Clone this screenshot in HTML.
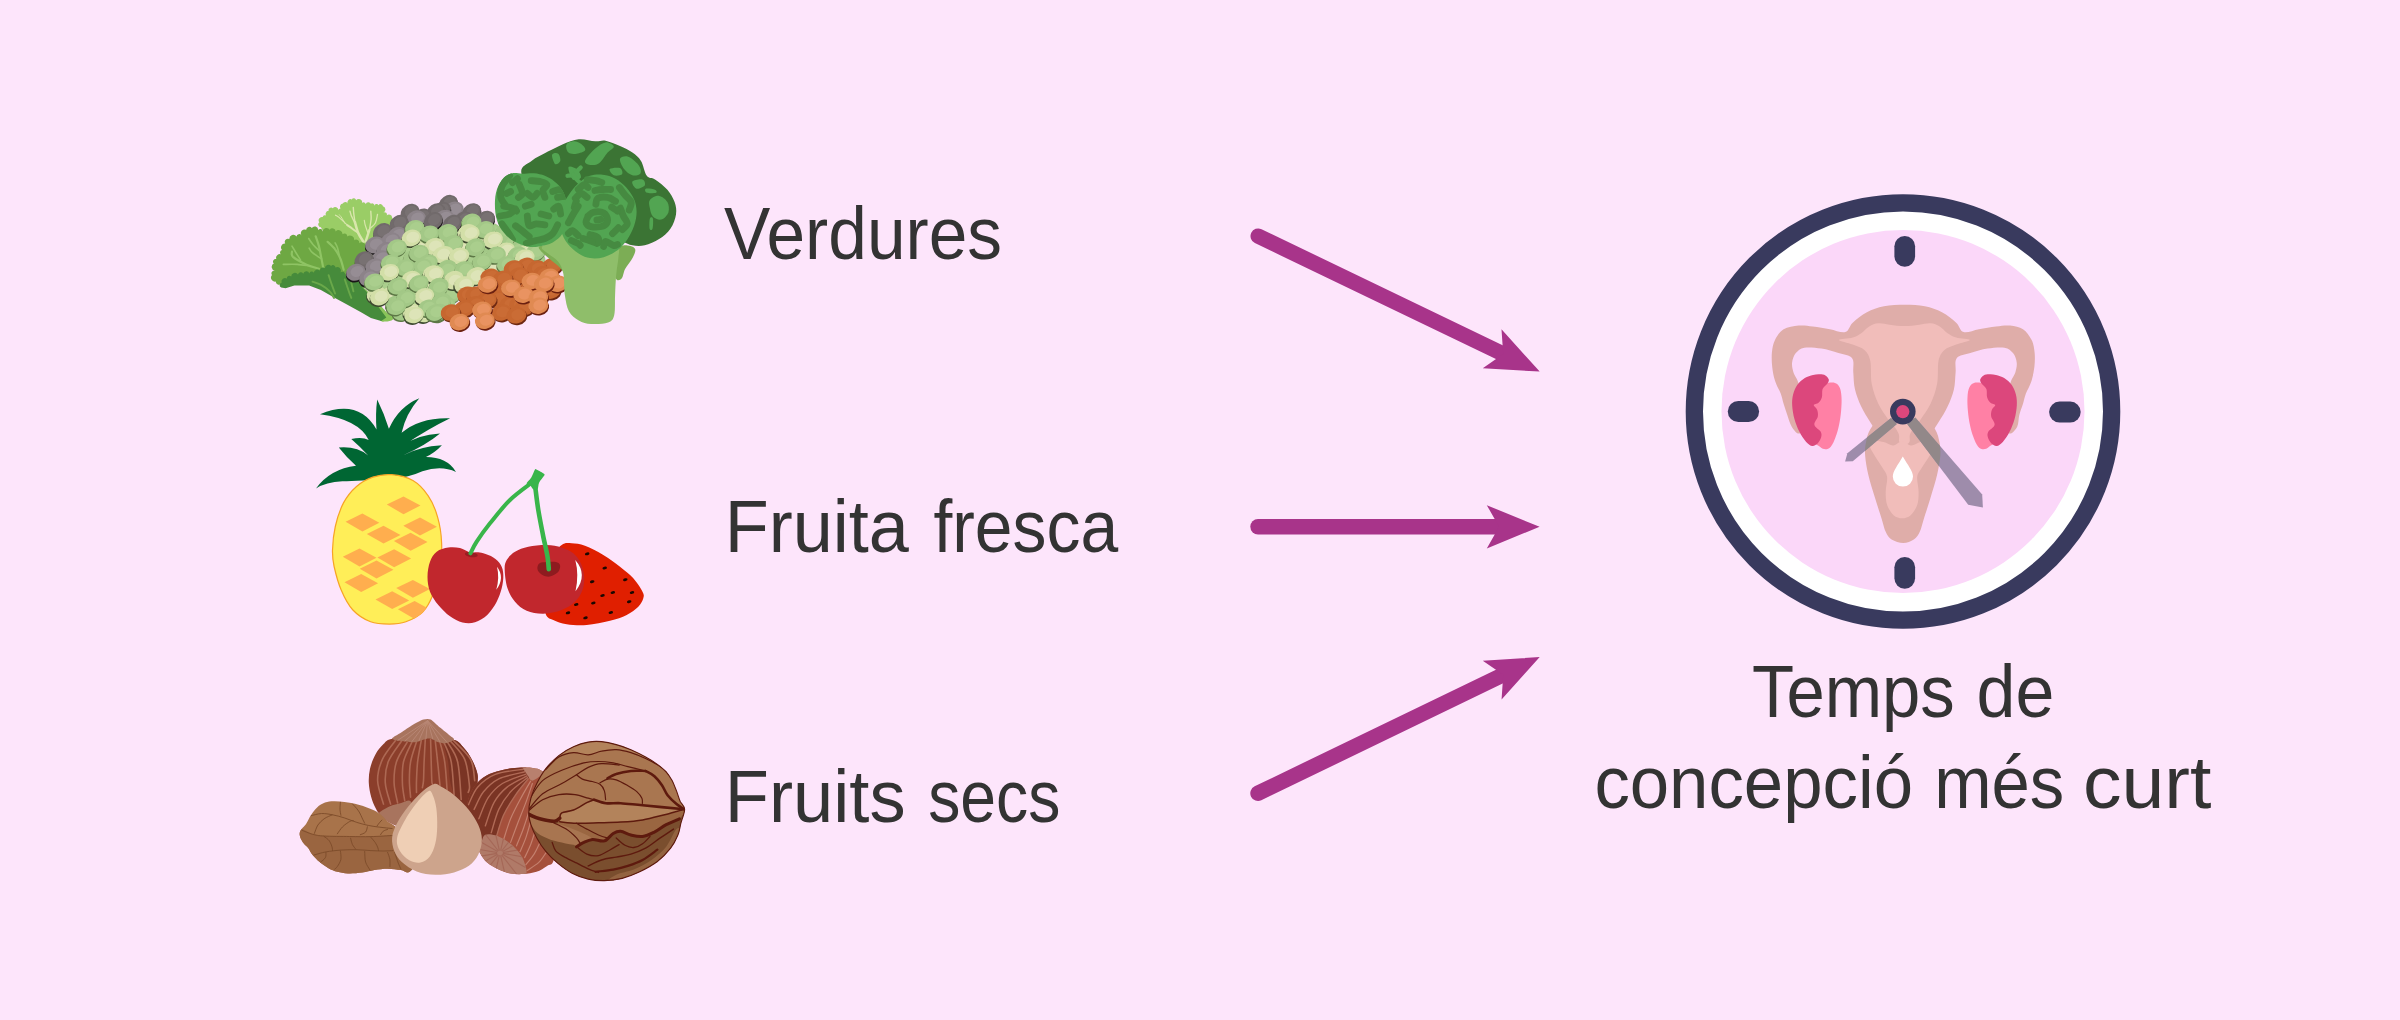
<!DOCTYPE html>
<html>
<head>
<meta charset="utf-8">
<title>Temps de concepció més curt</title>
<style>
html,body{margin:0;padding:0;background:#fde5fb;}
body{width:2400px;height:1020px;overflow:hidden;font-family:"Liberation Sans",sans-serif;}
svg{display:block;position:absolute;left:0;top:0;}
text{font-family:"Liberation Sans",sans-serif;fill:#333333;}
</style>
</head>
<body>
<svg width="2400" height="1020" viewBox="0 0 2400 1020">
<rect x="0" y="0" width="2400" height="1020" fill="#fde5fb"/>
<g id="labels" font-size="75">
<text x="724.0" y="258.5" textLength="278.0" lengthAdjust="spacingAndGlyphs">Verdures</text>
<text x="724.8" y="551.7" textLength="184.0" lengthAdjust="spacingAndGlyphs">Fruita</text>
<text x="933.4" y="551.7" textLength="184.8" lengthAdjust="spacingAndGlyphs">fresca</text>
<text x="724.8" y="822.3" textLength="180.8" lengthAdjust="spacingAndGlyphs">Fruits</text>
<text x="928.2" y="822.3" textLength="132.2" lengthAdjust="spacingAndGlyphs">secs</text>
<text x="1752.0" y="717.3" textLength="202.8" lengthAdjust="spacingAndGlyphs">Temps</text>
<text x="1976.6" y="717.3" textLength="77.8" lengthAdjust="spacingAndGlyphs">de</text>
<text x="1594.4" y="807.7" textLength="318.6" lengthAdjust="spacingAndGlyphs">concepció</text>
<text x="1934.2" y="807.7" textLength="130.0" lengthAdjust="spacingAndGlyphs">més</text>
<text x="2083.0" y="807.7" textLength="128.4" lengthAdjust="spacingAndGlyphs">curt</text>
</g>
<g id="arrows" fill="#a8348a" stroke="none">
<g transform="translate(1539.7,371.6) rotate(25.7)">
<line x1="-312.4" y1="0" x2="-42" y2="0" stroke="#a8348a" stroke-width="15.4" stroke-linecap="round"/>
<polygon points="0,0 -52.8,-21.6 -40.5,0 -52.8,21.6"/>
</g>
<g transform="translate(1539.6,526.8)">
<line x1="-281.6" y1="0" x2="-42" y2="0" stroke="#a8348a" stroke-width="15.4" stroke-linecap="round"/>
<polygon points="0,0 -52.8,-21.6 -40.5,0 -52.8,21.6"/>
</g>
<g transform="translate(1539.7,657.1) rotate(-25.8)">
<line x1="-312.9" y1="0" x2="-42" y2="0" stroke="#a8348a" stroke-width="15.4" stroke-linecap="round"/>
<polygon points="0,0 -52.8,-21.6 -40.5,0 -52.8,21.6"/>
</g>
</g>
<g id="clock">
<circle cx="1903" cy="411.5" r="208.65" fill="#ffffff" stroke="#393a5e" stroke-width="17.3"/>
<circle cx="1903" cy="411.5" r="181.5" fill="#fbd7f9"/>
<rect x="1894.4" y="235.9" width="20.7" height="30.9" rx="10.35" fill="#393a5e"/>
<rect x="1894.4" y="556.9" width="20.7" height="31.8" rx="10.35" fill="#393a5e"/>
<rect x="1727.8" y="401" width="31.3" height="21" rx="10.5" fill="#393a5e"/>
<rect x="2049.1" y="401.6" width="31.6" height="20.9" rx="10.45" fill="#393a5e"/>
<clipPath id="utclip"><path d="M1905,304.8C1911.8,304.8 1918.7,305 1924.9,306.2C1931.1,307.4 1936.7,309.4 1942,312.2C1947.2,314.9 1952.6,319.4 1956.2,322.7C1959.8,326 1959.8,331 1963.6,332.1C1967.4,333.2 1973.5,330.2 1978.9,329.2C1984.3,328.3 1990.8,327 1996,326.4C2001.2,325.8 2005.7,325.1 2010.2,325.5C2014.7,326 2019.4,326.9 2023,329.2C2026.5,331.6 2029.6,335.9 2031.5,339.8C2033.5,343.6 2034.2,348 2034.6,352.5C2035.1,357.1 2034.9,362 2034.4,366.8C2033.8,371.5 2032.9,376.5 2031.5,381C2030.1,385.5 2027.3,390 2025.8,393.8C2024.4,397.6 2024.1,400.2 2023,403.7C2021.9,407.3 2020.2,411.3 2019.3,415.1C2018.3,418.9 2018.8,423.4 2017.3,426.5C2015.8,429.6 2012.3,433.6 2010.2,433.6C2008.1,433.6 2005,431.4 2004.5,426.5C2004,421.5 2006.4,410.8 2007.4,403.7C2008.3,396.6 2008.9,389 2010.2,383.8C2011.5,378.6 2014.2,376 2015.3,372.5C2016.4,368.9 2017.1,365.7 2016.7,362.5C2016.4,359.3 2015.1,355.6 2013,353.1C2011,350.7 2008.8,348.5 2004.5,347.7C2000.2,347 1993.1,347.7 1987.5,348.6C1981.8,349.5 1975.5,351.5 1970.4,353.1C1965.3,354.7 1959.2,355 1956.7,358.2C1954.3,361.5 1956.1,367.2 1955.6,372.5C1955.1,377.7 1955.2,383.8 1953.9,389.5C1952.6,395.2 1950.2,401.1 1947.6,406.6C1945.1,412 1941.9,417 1938.5,422.2C1935.2,427.4 1931.4,433.8 1927.7,437.8C1924,441.9 1920.3,444.5 1916.4,446.4C1912.5,448.3 1908.4,449.2 1904.4,449.2C1900.5,449.2 1896.4,448.3 1892.5,446.4C1888.6,444.5 1884.8,441.9 1881.1,437.8C1877.4,433.8 1873.6,427.4 1870.3,422.2C1867,417 1863.8,412 1861.2,406.6C1858.7,401.1 1856.3,395.2 1855,389.5C1853.6,383.8 1853.7,377.7 1853.3,372.5C1852.8,367.2 1854.6,361.5 1852.1,358.2C1849.7,355 1843.6,354.7 1838.5,353.1C1833.4,351.5 1827.1,349.5 1821.4,348.6C1815.7,347.7 1808.6,347 1804.4,347.7C1800.1,348.5 1797.9,350.7 1795.8,353.1C1793.8,355.6 1792.5,359.3 1792.1,362.5C1791.7,365.7 1792.5,368.9 1793.5,372.5C1794.6,376 1797.3,378.6 1798.7,383.8C1800,389 1800.6,396.6 1801.5,403.7C1802.5,410.8 1804.8,421.5 1804.4,426.5C1803.9,431.4 1800.8,433.6 1798.7,433.6C1796.5,433.6 1793.5,429.6 1791.6,426.5C1789.7,423.4 1788.6,418.9 1787.3,415.1C1786,411.3 1784.7,407.3 1783.6,403.7C1782.5,400.2 1782.2,397.6 1780.8,393.8C1779.3,390 1776.5,385.5 1775.1,381C1773.6,376.5 1772.7,371.5 1772.2,366.8C1771.7,362 1771.5,357.1 1771.9,352.5C1772.4,348 1773.1,343.6 1775.1,339.8C1777,335.9 1779.7,331.6 1783.6,329.2C1787.5,326.9 1793.8,326 1798.7,325.5C1803.5,325.1 1807.7,325.8 1812.9,326.4C1818.1,327 1824.5,328.3 1829.9,329.2C1835.3,330.2 1841.5,333.2 1845.3,332.1C1849.1,331 1849.1,326 1852.7,322.7C1856.3,319.4 1861.7,314.9 1866.9,312.2C1872.1,309.4 1877.6,307.4 1884,306.2C1890.3,305 1898.2,304.8 1905,304.8Z"/><path d="M1902.7,412.3C1909.5,412.3 1917.5,413.7 1922.9,416.5C1928.3,419.4 1932.3,424.8 1935.1,429.3C1937.9,433.8 1938.8,439 1939.7,443.5C1940.5,448 1940.7,451.1 1940.3,456.3C1939.8,461.5 1938.7,467.9 1937.1,474.8C1935.5,481.7 1932.8,490.2 1930.6,497.5C1928.4,504.9 1925.6,513.2 1923.8,518.9C1922,524.6 1921.4,528.2 1919.8,531.7C1918.1,535.1 1916.6,537.7 1913.8,539.6C1911.1,541.5 1907,543 1903.3,543C1899.6,543 1894.6,541.5 1891.6,539.6C1888.7,537.7 1887.3,535.1 1885.7,531.7C1884,528.2 1883.5,524.6 1881.7,518.9C1879.9,513.2 1877.1,504.9 1874.9,497.5C1872.6,490.2 1869.9,481.7 1868.3,474.8C1866.7,467.9 1865.6,461.5 1865.2,456.3C1864.8,451.1 1864.9,448 1865.8,443.5C1866.6,439 1867.5,433.8 1870.3,429.3C1873.1,424.8 1877.1,419.4 1882.5,416.5C1887.9,413.7 1896,412.3 1902.7,412.3Z"/></clipPath>
<path d="M1905,304.8C1911.8,304.8 1918.7,305 1924.9,306.2C1931.1,307.4 1936.7,309.4 1942,312.2C1947.2,314.9 1952.6,319.4 1956.2,322.7C1959.8,326 1959.8,331 1963.6,332.1C1967.4,333.2 1973.5,330.2 1978.9,329.2C1984.3,328.3 1990.8,327 1996,326.4C2001.2,325.8 2005.7,325.1 2010.2,325.5C2014.7,326 2019.4,326.9 2023,329.2C2026.5,331.6 2029.6,335.9 2031.5,339.8C2033.5,343.6 2034.2,348 2034.6,352.5C2035.1,357.1 2034.9,362 2034.4,366.8C2033.8,371.5 2032.9,376.5 2031.5,381C2030.1,385.5 2027.3,390 2025.8,393.8C2024.4,397.6 2024.1,400.2 2023,403.7C2021.9,407.3 2020.2,411.3 2019.3,415.1C2018.3,418.9 2018.8,423.4 2017.3,426.5C2015.8,429.6 2012.3,433.6 2010.2,433.6C2008.1,433.6 2005,431.4 2004.5,426.5C2004,421.5 2006.4,410.8 2007.4,403.7C2008.3,396.6 2008.9,389 2010.2,383.8C2011.5,378.6 2014.2,376 2015.3,372.5C2016.4,368.9 2017.1,365.7 2016.7,362.5C2016.4,359.3 2015.1,355.6 2013,353.1C2011,350.7 2008.8,348.5 2004.5,347.7C2000.2,347 1993.1,347.7 1987.5,348.6C1981.8,349.5 1975.5,351.5 1970.4,353.1C1965.3,354.7 1959.2,355 1956.7,358.2C1954.3,361.5 1956.1,367.2 1955.6,372.5C1955.1,377.7 1955.2,383.8 1953.9,389.5C1952.6,395.2 1950.2,401.1 1947.6,406.6C1945.1,412 1941.9,417 1938.5,422.2C1935.2,427.4 1931.4,433.8 1927.7,437.8C1924,441.9 1920.3,444.5 1916.4,446.4C1912.5,448.3 1908.4,449.2 1904.4,449.2C1900.5,449.2 1896.4,448.3 1892.5,446.4C1888.6,444.5 1884.8,441.9 1881.1,437.8C1877.4,433.8 1873.6,427.4 1870.3,422.2C1867,417 1863.8,412 1861.2,406.6C1858.7,401.1 1856.3,395.2 1855,389.5C1853.6,383.8 1853.7,377.7 1853.3,372.5C1852.8,367.2 1854.6,361.5 1852.1,358.2C1849.7,355 1843.6,354.7 1838.5,353.1C1833.4,351.5 1827.1,349.5 1821.4,348.6C1815.7,347.7 1808.6,347 1804.4,347.7C1800.1,348.5 1797.9,350.7 1795.8,353.1C1793.8,355.6 1792.5,359.3 1792.1,362.5C1791.7,365.7 1792.5,368.9 1793.5,372.5C1794.6,376 1797.3,378.6 1798.7,383.8C1800,389 1800.6,396.6 1801.5,403.7C1802.5,410.8 1804.8,421.5 1804.4,426.5C1803.9,431.4 1800.8,433.6 1798.7,433.6C1796.5,433.6 1793.5,429.6 1791.6,426.5C1789.7,423.4 1788.6,418.9 1787.3,415.1C1786,411.3 1784.7,407.3 1783.6,403.7C1782.5,400.2 1782.2,397.6 1780.8,393.8C1779.3,390 1776.5,385.5 1775.1,381C1773.6,376.5 1772.7,371.5 1772.2,366.8C1771.7,362 1771.5,357.1 1771.9,352.5C1772.4,348 1773.1,343.6 1775.1,339.8C1777,335.9 1779.7,331.6 1783.6,329.2C1787.5,326.9 1793.8,326 1798.7,325.5C1803.5,325.1 1807.7,325.8 1812.9,326.4C1818.1,327 1824.5,328.3 1829.9,329.2C1835.3,330.2 1841.5,333.2 1845.3,332.1C1849.1,331 1849.1,326 1852.7,322.7C1856.3,319.4 1861.7,314.9 1866.9,312.2C1872.1,309.4 1877.6,307.4 1884,306.2C1890.3,305 1898.2,304.8 1905,304.8Z" fill="#dfada9"/>
<path d="M1902.7,412.3C1909.5,412.3 1917.5,413.7 1922.9,416.5C1928.3,419.4 1932.3,424.8 1935.1,429.3C1937.9,433.8 1938.8,439 1939.7,443.5C1940.5,448 1940.7,451.1 1940.3,456.3C1939.8,461.5 1938.7,467.9 1937.1,474.8C1935.5,481.7 1932.8,490.2 1930.6,497.5C1928.4,504.9 1925.6,513.2 1923.8,518.9C1922,524.6 1921.4,528.2 1919.8,531.7C1918.1,535.1 1916.6,537.7 1913.8,539.6C1911.1,541.5 1907,543 1903.3,543C1899.6,543 1894.6,541.5 1891.6,539.6C1888.7,537.7 1887.3,535.1 1885.7,531.7C1884,528.2 1883.5,524.6 1881.7,518.9C1879.9,513.2 1877.1,504.9 1874.9,497.5C1872.6,490.2 1869.9,481.7 1868.3,474.8C1866.7,467.9 1865.6,461.5 1865.2,456.3C1864.8,451.1 1864.9,448 1865.8,443.5C1866.6,439 1867.5,433.8 1870.3,429.3C1873.1,424.8 1877.1,419.4 1882.5,416.5C1887.9,413.7 1896,412.3 1902.7,412.3Z" fill="#dfada9"/>
<path d="M1904.4,326.1C1909.4,326.1 1914.9,325.2 1919.2,324.7C1923.6,324.2 1927.2,323 1930.6,323.3C1934,323.5 1936.8,324.7 1939.7,326.4C1942.5,328.1 1944.9,331.4 1947.6,333.2C1950.4,335.1 1952.5,336.3 1956.2,337.5C1959.9,338.6 1969.8,338.9 1969.8,340C1969.8,341.2 1960.4,342.9 1956.2,344.6C1951.9,346.3 1947.2,347.5 1944.2,350.3C1941.3,353 1939.7,355.5 1938.5,361.1C1937.4,366.7 1938.5,376.7 1937.1,383.8C1935.8,390.9 1933.3,397.8 1930.6,403.7C1927.8,409.6 1923.5,415.3 1920.6,419.4C1917.8,423.4 1915.3,425.3 1913.5,427.9C1911.7,430.5 1910.5,432.6 1909.8,435C1909.2,437.4 1910.4,440.4 1909.5,442.1C1908.6,443.8 1906.1,445 1904.4,445C1902.7,445 1900.2,443.8 1899.3,442.1C1898.4,440.4 1899.7,437.4 1899,435C1898.4,432.6 1897.1,430.5 1895.3,427.9C1893.5,425.3 1891.1,423.4 1888.2,419.4C1885.4,415.3 1881,409.6 1878.3,403.7C1875.5,397.8 1873.1,390.9 1871.7,383.8C1870.4,376.7 1871.5,366.7 1870.3,361.1C1869.1,355.5 1867.6,353 1864.6,350.3C1861.7,347.5 1857,346.3 1852.7,344.6C1848.4,342.9 1839,341.2 1839,340C1839,338.9 1849,338.6 1852.7,337.5C1856.4,336.3 1858.5,335.1 1861.2,333.2C1864,331.4 1866.3,328.1 1869.2,326.4C1872,324.7 1874.9,323.5 1878.3,323.3C1881.7,323 1885.3,324.2 1889.6,324.7C1894,325.2 1899.5,326.1 1904.4,326.1Z" fill="#f1bdba"/>
<path d="M1902.2,441.3C1905.1,441.3 1907.9,445.4 1911,445.5C1914.1,445.7 1917.4,442.8 1920.6,442.1C1923.9,441.4 1928.3,440.7 1930.6,441.3C1932.9,441.8 1934.7,443.2 1934.6,445.5C1934.5,447.8 1932.2,451.1 1930,454.9C1927.8,458.7 1923.6,464.6 1921.5,468.3C1919.4,472 1917.7,473.1 1917.2,477.1C1916.8,481 1918.6,487.2 1918.6,491.9C1918.6,496.5 1918.6,501.1 1917.2,504.9C1915.9,508.8 1913.2,512.9 1910.7,515.2C1908.2,517.4 1905,518.3 1902.2,518.3C1899.3,518.3 1896.1,517.4 1893.6,515.2C1891.1,512.9 1888.4,508.8 1887.1,504.9C1885.8,501.1 1885.7,496.5 1885.7,491.9C1885.7,487.2 1887.6,481 1887.1,477.1C1886.6,473.1 1885,472 1882.8,468.3C1880.7,464.6 1876.5,458.7 1874.3,454.9C1872.1,451.1 1869.8,447.8 1869.7,445.5C1869.7,443.2 1871.4,441.8 1873.7,441.3C1876,440.7 1880.4,441.4 1883.7,442.1C1886.9,442.8 1890.3,445.7 1893.3,445.5C1896.4,445.4 1899.2,441.3 1902.2,441.3Z" fill="#f1bdba"/>
<path d="M1824,383.6C1827.9,382.8 1832.3,382.2 1835,382.9C1837.6,383.6 1838.7,385.3 1839.8,387.7C1840.9,390.1 1841.3,393.4 1841.5,397.3C1841.8,401.2 1841.5,406.4 1841.1,411C1840.7,415.6 1840,420.4 1839.1,424.7C1838.2,429.1 1837,433.4 1835.6,437.1C1834.3,440.7 1832.6,444.7 1830.8,446.7C1829.1,448.7 1827.2,449.2 1825.4,449.2C1823.5,449.2 1822.2,448.5 1819.9,446.7C1817.6,444.9 1813.9,444.4 1811.6,438.5C1809.4,432.5 1806.2,419.5 1806.2,411C1806.2,402.6 1808.7,392.3 1811.6,387.7C1814.6,383.1 1820.1,384.4 1824,383.6Z" fill="#ff80a5"/>
<path d="M1819.9,374.3C1821.9,374.3 1823.9,374.5 1825.4,375.4C1826.8,376.2 1828.4,378.1 1828.8,379.5C1829.1,380.8 1828.4,382 1827.4,383.6C1826.4,385.2 1823.5,386.8 1822.6,389.1C1821.7,391.4 1822.6,395 1821.9,397.3C1821.2,399.6 1819.9,401.5 1818.5,402.8C1817.1,404.1 1813.9,404 1813.7,405.1C1813.5,406.3 1816.4,407.8 1817.1,409.7C1817.8,411.5 1818.3,414 1817.8,416.5C1817.4,419 1813.9,422.2 1814.4,424.7C1814.8,427.3 1819.4,429.5 1820.6,431.6C1821.7,433.7 1821.7,435.1 1821.2,437.1C1820.8,439 1819.3,441.8 1817.8,443.3C1816.3,444.7 1814.3,446.2 1812.3,446C1810.4,445.8 1808.3,444.3 1806.2,441.9C1804,439.5 1801.2,435.4 1799.3,431.6C1797.4,427.8 1795.7,423.6 1794.5,419.3C1793.3,414.9 1792.4,409.7 1792.2,405.5C1791.9,401.4 1792.3,398 1793.1,394.6C1794,391.1 1795.3,387.7 1797.2,385C1799.2,382.2 1802.2,379.8 1804.8,378.1C1807.4,376.4 1810.5,375.6 1813,374.9C1815.5,374.3 1817.8,374.2 1819.9,374.3Z" fill="#dc477c"/>
<path d="M1985,383.6C1981.1,382.8 1976.7,382.2 1974,382.9C1971.4,383.6 1970.3,385.3 1969.2,387.7C1968.1,390.1 1967.7,393.4 1967.5,397.3C1967.2,401.2 1967.5,406.4 1967.9,411C1968.3,415.6 1969,420.4 1969.9,424.7C1970.8,429.1 1972,433.4 1973.4,437.1C1974.7,440.7 1976.4,444.7 1978.2,446.7C1979.9,448.7 1981.8,449.2 1983.6,449.2C1985.5,449.2 1986.8,448.5 1989.1,446.7C1991.4,444.9 1995.1,444.4 1997.4,438.5C1999.6,432.5 2002.8,419.5 2002.8,411C2002.8,402.6 2000.3,392.3 1997.4,387.7C1994.4,383.1 1988.9,384.4 1985,383.6Z" fill="#ff80a5"/>
<path d="M1989.1,374.3C1987.1,374.3 1985.1,374.5 1983.6,375.4C1982.2,376.2 1980.6,378.1 1980.2,379.5C1979.9,380.8 1980.6,382 1981.6,383.6C1982.6,385.2 1985.5,386.8 1986.4,389.1C1987.3,391.4 1986.4,395 1987.1,397.3C1987.8,399.6 1989.1,401.5 1990.5,402.8C1991.9,404.1 1995.1,404 1995.3,405.1C1995.5,406.3 1992.6,407.8 1991.9,409.7C1991.2,411.5 1990.7,414 1991.2,416.5C1991.6,419 1995.1,422.2 1994.6,424.7C1994.2,427.3 1989.6,429.5 1988.4,431.6C1987.3,433.7 1987.3,435.1 1987.8,437.1C1988.2,439 1989.7,441.8 1991.2,443.3C1992.7,444.7 1994.7,446.2 1996.7,446C1998.6,445.8 2000.7,444.3 2002.8,441.9C2005,439.5 2007.8,435.4 2009.7,431.6C2011.6,427.8 2013.3,423.6 2014.5,419.3C2015.7,414.9 2016.6,409.7 2016.8,405.5C2017.1,401.4 2016.7,398 2015.9,394.6C2015,391.1 2013.7,387.7 2011.8,385C2009.8,382.2 2006.8,379.8 2004.2,378.1C2001.6,376.4 1998.5,375.6 1996,374.9C1993.5,374.3 1991.2,374.2 1989.1,374.3Z" fill="#dc477c"/>
<path d="M1902.8,456.5C1898,465 1892.8,471 1892.8,476.5A10.1,10.1 0 0 0 1913,476.5C1913,471 1907.6,465 1902.8,456.5Z" fill="#ffffff"/>
<path d="M1891,417.9L1847.4,453.2L1845.1,461.6L1852.8,461.3L1896.9,424.1Z" fill="#9e8cab"/>
<path d="M1915.3,417.5L1982.2,494.4L1982.9,507.6L1968.2,504.7L1907.2,424.1Z" fill="#9e8cab"/>
<g clip-path="url(#utclip)"><path d="M1891,417.9L1847.4,453.2L1845.1,461.6L1852.8,461.3L1896.9,424.1Z" fill="#928889"/><path d="M1915.3,417.5L1982.2,494.4L1982.9,507.6L1968.2,504.7L1907.2,424.1Z" fill="#928889"/></g>
<circle cx="1902.8" cy="411.6" r="12.8" fill="#393a5e"/>
<circle cx="1902.8" cy="411.6" r="6.6" fill="#dc477c"/>
</g>
<g id="veg">
<path d="M320.9,227.3A2.8,2.8 0 0 1 319.3,222.3A3.3,3.3 0 0 1 322.7,217.1A2.3,2.3 0 0 1 326.9,216.4A3.1,3.1 0 0 1 328.7,210.8A2.5,2.5 0 0 1 332.8,208.2A3.2,3.2 0 0 1 338.5,210.2A1.7,1.7 0 0 1 341.5,209.2A3,3 0 0 1 342.8,203.6A2.7,2.7 0 0 1 347.9,203.8A3.1,3.1 0 0 1 351.8,199.4A2.3,2.3 0 0 1 356.1,200.2A3.5,3.5 0 0 1 362.2,203A2,2 0 0 1 365.7,204.2A2.8,2.8 0 0 1 370.9,203.7A2.2,2.2 0 0 1 374.2,206.2A2.3,2.3 0 0 1 378.5,205.2A2.4,2.4 0 0 1 382.9,206.3A3.3,3.3 0 0 1 383.5,212.5A2.3,2.3 0 0 1 386.7,215.5A3.1,3.1 0 0 1 392.1,217.6L399.8,233.1L372.9,260.1L340.5,250.4L325.4,235.3Z" fill="#9acd66"/>
<path d="M363.5,241.9C362.6,240.4 359.6,236.1 358.1,232.7C356.7,229.4 355.4,223.8 354.9,222" fill="none" stroke="#d9e6ac" stroke-width="2.6" stroke-linecap="round"/>
<path d="M354.9,222C354.7,220.6 354.1,216.3 353.8,213.9C353.5,211.4 353.4,208.5 353.3,207.4" fill="none" stroke="#d9e6ac" stroke-width="1.4" stroke-linecap="round"/>
<path d="M358.1,232.7C356.3,231.5 349.1,226.4 347.3,225.2" fill="none" stroke="#d9e6ac" stroke-width="2.0" stroke-linecap="round"/>
<path d="M347.3,225.2C346,223.9 341.2,219.3 339.3,217.6C337.3,216 336.1,215.6 335.5,215.2" fill="none" stroke="#d9e6ac" stroke-width="1.2" stroke-linecap="round"/>
<path d="M354.9,223C354.4,222 352.5,218.5 351.7,216.6C350.8,214.6 350.3,212.1 350,211.2" fill="none" stroke="#d9e6ac" stroke-width="1.4" stroke-linecap="round"/>
<path d="M365.7,241.4C366.3,239.5 368.8,231.9 369.4,230" fill="none" stroke="#d9e6ac" stroke-width="2.4" stroke-linecap="round"/>
<path d="M369.4,230C369.7,228.2 370.8,222.4 371.1,219.3C371.3,216.1 370.8,212.5 370.8,211.2" fill="none" stroke="#d9e6ac" stroke-width="1.4" stroke-linecap="round"/>
<path d="M370,228.4C370.9,227.5 374.1,225.4 375.4,223C376.6,220.7 377.2,215.8 377.5,214.4" fill="none" stroke="#d9e6ac" stroke-width="1.3" stroke-linecap="round"/>
<path d="M367.8,232.7C367.4,231.4 365.7,226.7 365.1,224.6C364.6,222.6 364.5,221.1 364.3,220.3" fill="none" stroke="#d9e6ac" stroke-width="1.2" stroke-linecap="round"/>
<path d="M345.2,223.6C344.5,222.4 341.9,218 340.9,216.6C339.9,215.1 339.5,215.2 339.3,214.9" fill="none" stroke="#d9e6ac" stroke-width="1.0" stroke-linecap="round"/>
<path d="M281.2,283.8A3.2,3.2 0 0 1 275.7,281.6A4,4 0 0 1 272,275A2.7,2.7 0 0 1 274.9,270.8A3.9,3.9 0 0 1 273.8,263.5A2.7,2.7 0 0 1 276.3,259A3.6,3.6 0 0 1 281.7,254.8A2.5,2.5 0 0 1 282,250A3.9,3.9 0 0 1 285.2,243.5A3.2,3.2 0 0 1 289.3,239A4,4 0 0 1 296.5,236.5A2.7,2.7 0 0 1 301.5,235.4A3.8,3.8 0 0 1 306.2,229.8A3.2,3.2 0 0 1 311.8,228A3.5,3.5 0 0 1 318.2,230A2.5,2.5 0 0 1 322.7,231.4A3.8,3.8 0 0 1 329.7,229.7A3.3,3.3 0 0 1 335.7,231.4A4,4 0 0 1 342.6,234.2A2.8,2.8 0 0 1 347.3,236.5A4.2,4.2 0 0 1 354.2,240.3A3.1,3.1 0 0 1 359.2,243.3A3.7,3.7 0 0 1 365.3,246.9A2,2 0 0 1 368.5,248.8L372.9,265.5L362.1,292.5L329.7,287.1L297.4,281.7Z" fill="#6ea843"/>
<path d="M323.2,267.7C322.9,265.9 321.8,260.5 321.1,256.9C320.4,253.3 319.8,249.5 318.9,246.1C318,242.7 316.2,238 315.7,236.4" fill="none" stroke="#8fc464" stroke-width="2.2" stroke-linecap="round"/>
<path d="M321.6,259C320.1,258 314.5,254.4 312.5,252.6C310.4,250.8 309.8,249 309.2,248.2" fill="none" stroke="#8fc464" stroke-width="1.6" stroke-linecap="round"/>
<path d="M320,251.5C318.7,250.2 314.3,246.1 312.5,243.9C310.6,241.8 309.3,239.4 308.7,238.5" fill="none" stroke="#8fc464" stroke-width="1.6" stroke-linecap="round"/>
<path d="M343.7,269.8C343.2,268 341.9,262.4 340.5,259C339.1,255.6 337.3,252.2 335.1,249.3C333,246.4 328.8,243 327.6,241.8" fill="none" stroke="#8fc464" stroke-width="2.2" stroke-linecap="round"/>
<path d="M339.4,255.8C339.1,254.4 338,249.3 337.3,247.2C336.5,245 335.5,243.6 335.1,242.9" fill="none" stroke="#8fc464" stroke-width="1.6" stroke-linecap="round"/>
<path d="M318.9,268.7C316.8,268 310.3,266.4 306,264.4C301.7,262.4 295.4,259 293,256.9C290.7,254.7 292.1,252.4 292,251.5" fill="none" stroke="#8fc464" stroke-width="2.2" stroke-linecap="round"/>
<path d="M310.3,266C308.1,265.8 301.9,264.7 297.4,264.4C292.9,264.2 285.7,264.4 283.3,264.4" fill="none" stroke="#8fc464" stroke-width="1.6" stroke-linecap="round"/>
<path d="M300.6,260.1C299.7,258.7 296.6,253.8 295.2,251.5C293.8,249.1 292.5,247 292,246.1" fill="none" stroke="#8fc464" stroke-width="1.6" stroke-linecap="round"/>
<path d="M359.1,285.6C359.1,282.9 364.5,288.3 367.9,291.5C371.4,294.7 376,300.8 379.7,304.7C383.4,308.6 387.5,313.5 390,315C392.5,316.5 393.9,312.8 394.4,313.5C394.9,314.3 394.4,318.1 392.9,319.4C391.5,320.8 387.8,321.5 385.6,321.6C383.4,321.7 382.6,322.5 379.7,320.1C376.8,317.8 371.4,313.4 367.9,307.6C364.5,301.9 359.1,288.3 359.1,285.6Z" fill="#8ac45a"/>
<path d="M281.2,287.6A2.6,2.6 0 0 1 281.6,282.7A3.6,3.6 0 0 1 286.9,278.6A2.5,2.5 0 0 1 291.2,276.5A3.7,3.7 0 0 1 298,274.5A2.8,2.8 0 0 1 303.2,273.7A3.3,3.3 0 0 1 309.4,273.4A2.3,2.3 0 0 1 313.8,272.8A3.5,3.5 0 0 1 320,270.8A2.9,2.9 0 0 1 324.9,268.3A3.6,3.6 0 0 1 331.1,265.9A2.5,2.5 0 0 1 335.5,267.5A3.7,3.7 0 0 1 340.6,272.4A2.7,2.7 0 0 1 345,275.1A3.3,3.3 0 0 1 351,276.9A2.4,2.4 0 0 1 354.7,279.3A3.4,3.4 0 0 1 359.6,283.6A2.7,2.7 0 0 1 362.6,287.6L367.9,292.9L376.8,304.7L386.3,317.6L381.2,320.9L370.9,317.9L360.6,312.1L347.4,304.7L334.1,297.4L320.9,290L309.1,285.6L294.4,285.6L285.6,288.2Z" fill="#468b3b"/>
<path d="M312.5,281.7C313.9,282.2 318.2,283.3 321.1,284.9C324,286.5 327.6,289.2 329.7,291.4C331.9,293.5 333.3,296.8 334,297.9" fill="none" stroke="#6aa84a" stroke-width="1.9" stroke-linecap="round"/>
<path d="M328.6,275.2C329.2,276.8 330.8,281.9 331.9,284.9C333,288 334.6,292.1 335.1,293.5" fill="none" stroke="#6aa84a" stroke-width="1.9" stroke-linecap="round"/>
<path d="M344.8,279.5C345.4,281.1 347,286.2 348.1,289.2C349.1,292.3 350.7,296.4 351.3,297.9" fill="none" stroke="#6aa84a" stroke-width="1.9" stroke-linecap="round"/>
<path d="M351.3,282.8C351.6,284.2 353.1,289.9 353.4,291.4" fill="none" stroke="#6aa84a" stroke-width="1.9" stroke-linecap="round"/>
<g transform="translate(473.3,222.6) rotate(-18)"><ellipse cx="-1.0" cy="1.3" rx="10.0" ry="8.2" fill="#5d7846"/><ellipse cx="0" cy="0" rx="10.0" ry="8.2" fill="#a3c887"/><ellipse cx="1.5" cy="-0.3" rx="6.6" ry="5.4" fill="#aace8d"/></g>
<g transform="translate(484.3,224.1) rotate(-18)"><ellipse cx="-1.0" cy="1.3" rx="10.0" ry="8.2" fill="#5d7846"/><ellipse cx="0" cy="0" rx="10.0" ry="8.2" fill="#a3c887"/><ellipse cx="1.5" cy="-0.3" rx="6.6" ry="5.4" fill="#aace8d"/></g>
<g transform="translate(418.2,233) rotate(-18)"><ellipse cx="-1.0" cy="1.3" rx="10.0" ry="8.2" fill="#5d7846"/><ellipse cx="0" cy="0" rx="10.0" ry="8.2" fill="#a3c887"/><ellipse cx="1.5" cy="-0.3" rx="6.6" ry="5.4" fill="#aace8d"/></g>
<g transform="translate(431.7,231.3) rotate(-18)"><ellipse cx="-1.0" cy="1.3" rx="10.0" ry="8.2" fill="#5d7846"/><ellipse cx="0" cy="0" rx="10.0" ry="8.2" fill="#a3c887"/><ellipse cx="1.5" cy="-0.3" rx="6.6" ry="5.4" fill="#aace8d"/></g>
<g transform="translate(443.7,234.3) rotate(-18)"><ellipse cx="-1.0" cy="1.3" rx="10.0" ry="8.2" fill="#5d7846"/><ellipse cx="0" cy="0" rx="10.0" ry="8.2" fill="#a3c887"/><ellipse cx="1.5" cy="-0.3" rx="6.6" ry="5.4" fill="#aace8d"/></g>
<g transform="translate(454.9,233.5) rotate(-18)"><ellipse cx="-1.0" cy="1.4" rx="10.0" ry="8.2" fill="#3e4a30"/><ellipse cx="0" cy="0" rx="10.0" ry="8.2" fill="#d3dfa8"/><ellipse cx="1.5" cy="-0.3" rx="6.6" ry="5.4" fill="#dde4b8"/></g>
<g transform="translate(468.3,232.6) rotate(-18)"><ellipse cx="-1.0" cy="1.4" rx="10.0" ry="8.2" fill="#3e4a30"/><ellipse cx="0" cy="0" rx="10.0" ry="8.2" fill="#d3dfa8"/><ellipse cx="1.5" cy="-0.3" rx="6.6" ry="5.4" fill="#dde4b8"/></g>
<g transform="translate(478.2,234.4) rotate(-18)"><ellipse cx="-1.0" cy="1.3" rx="10.0" ry="8.2" fill="#5d7846"/><ellipse cx="0" cy="0" rx="10.0" ry="8.2" fill="#a3c887"/><ellipse cx="1.5" cy="-0.3" rx="6.6" ry="5.4" fill="#aace8d"/></g>
<g transform="translate(490.6,231.5) rotate(-18)"><ellipse cx="-1.0" cy="1.3" rx="10.0" ry="8.2" fill="#5d7846"/><ellipse cx="0" cy="0" rx="10.0" ry="8.2" fill="#a3c887"/><ellipse cx="1.5" cy="-0.3" rx="6.6" ry="5.4" fill="#aace8d"/></g>
<g transform="translate(505.3,231.7) rotate(-18)"><ellipse cx="-1.0" cy="1.3" rx="10.0" ry="8.2" fill="#5d7846"/><ellipse cx="0" cy="0" rx="10.0" ry="8.2" fill="#a3c887"/><ellipse cx="1.5" cy="-0.3" rx="6.6" ry="5.4" fill="#aace8d"/></g>
<g transform="translate(402.6,241.5) rotate(-18)"><ellipse cx="-1.0" cy="1.3" rx="10.0" ry="8.2" fill="#5d7846"/><ellipse cx="0" cy="0" rx="10.0" ry="8.2" fill="#a3c887"/><ellipse cx="1.5" cy="-0.3" rx="6.6" ry="5.4" fill="#aace8d"/></g>
<g transform="translate(412.3,240.2) rotate(-18)"><ellipse cx="-1.0" cy="1.3" rx="10.0" ry="8.2" fill="#5d7846"/><ellipse cx="0" cy="0" rx="10.0" ry="8.2" fill="#a3c887"/><ellipse cx="1.5" cy="-0.3" rx="6.6" ry="5.4" fill="#aace8d"/></g>
<g transform="translate(426.7,241.7) rotate(-18)"><ellipse cx="-1.0" cy="1.3" rx="10.0" ry="8.2" fill="#5d7846"/><ellipse cx="0" cy="0" rx="10.0" ry="8.2" fill="#a3c887"/><ellipse cx="1.5" cy="-0.3" rx="6.6" ry="5.4" fill="#aace8d"/></g>
<g transform="translate(438.3,241.8) rotate(-18)"><ellipse cx="-1.0" cy="1.3" rx="10.0" ry="8.2" fill="#5d7846"/><ellipse cx="0" cy="0" rx="10.0" ry="8.2" fill="#a3c887"/><ellipse cx="1.5" cy="-0.3" rx="6.6" ry="5.4" fill="#aace8d"/></g>
<g transform="translate(451.2,242.8) rotate(-18)"><ellipse cx="-1.0" cy="1.3" rx="10.0" ry="8.2" fill="#5d7846"/><ellipse cx="0" cy="0" rx="10.0" ry="8.2" fill="#a3c887"/><ellipse cx="1.5" cy="-0.3" rx="6.6" ry="5.4" fill="#aace8d"/></g>
<g transform="translate(462.3,242.1) rotate(-18)"><ellipse cx="-1.0" cy="1.4" rx="10.0" ry="8.2" fill="#3e4a30"/><ellipse cx="0" cy="0" rx="10.0" ry="8.2" fill="#d3dfa8"/><ellipse cx="1.5" cy="-0.3" rx="6.6" ry="5.4" fill="#dde4b8"/></g>
<g transform="translate(474.9,241.2) rotate(-18)"><ellipse cx="-1.0" cy="1.4" rx="10.0" ry="8.2" fill="#3e4a30"/><ellipse cx="0" cy="0" rx="10.0" ry="8.2" fill="#d3dfa8"/><ellipse cx="1.5" cy="-0.3" rx="6.6" ry="5.4" fill="#dde4b8"/></g>
<g transform="translate(484.5,241.7) rotate(-18)"><ellipse cx="-1.0" cy="1.4" rx="10.0" ry="8.2" fill="#3e4a30"/><ellipse cx="0" cy="0" rx="10.0" ry="8.2" fill="#d3dfa8"/><ellipse cx="1.5" cy="-0.3" rx="6.6" ry="5.4" fill="#dde4b8"/></g>
<g transform="translate(496.6,242) rotate(-18)"><ellipse cx="-1.0" cy="1.3" rx="10.0" ry="8.2" fill="#5d7846"/><ellipse cx="0" cy="0" rx="10.0" ry="8.2" fill="#a3c887"/><ellipse cx="1.5" cy="-0.3" rx="6.6" ry="5.4" fill="#aace8d"/></g>
<g transform="translate(510.7,243.1) rotate(-18)"><ellipse cx="-1.0" cy="1.3" rx="10.0" ry="8.2" fill="#5d7846"/><ellipse cx="0" cy="0" rx="10.0" ry="8.2" fill="#a3c887"/><ellipse cx="1.5" cy="-0.3" rx="6.6" ry="5.4" fill="#aace8d"/></g>
<g transform="translate(523.5,241.3) rotate(-18)"><ellipse cx="-1.0" cy="1.3" rx="10.0" ry="8.2" fill="#5d7846"/><ellipse cx="0" cy="0" rx="10.0" ry="8.2" fill="#a3c887"/><ellipse cx="1.5" cy="-0.3" rx="6.6" ry="5.4" fill="#aace8d"/></g>
<g transform="translate(396.4,251.3) rotate(-18)"><ellipse cx="-1.0" cy="1.3" rx="10.0" ry="8.2" fill="#5d7846"/><ellipse cx="0" cy="0" rx="10.0" ry="8.2" fill="#a3c887"/><ellipse cx="1.5" cy="-0.3" rx="6.6" ry="5.4" fill="#aace8d"/></g>
<g transform="translate(409.4,252.8) rotate(-18)"><ellipse cx="-1.0" cy="1.3" rx="10.0" ry="8.2" fill="#5d7846"/><ellipse cx="0" cy="0" rx="10.0" ry="8.2" fill="#a3c887"/><ellipse cx="1.5" cy="-0.3" rx="6.6" ry="5.4" fill="#aace8d"/></g>
<g transform="translate(420.7,249.2) rotate(-18)"><ellipse cx="-1.0" cy="1.4" rx="10.0" ry="8.2" fill="#3e4a30"/><ellipse cx="0" cy="0" rx="10.0" ry="8.2" fill="#d3dfa8"/><ellipse cx="1.5" cy="-0.3" rx="6.6" ry="5.4" fill="#dde4b8"/></g>
<g transform="translate(432.6,253) rotate(-18)"><ellipse cx="-1.0" cy="1.4" rx="10.0" ry="8.2" fill="#3e4a30"/><ellipse cx="0" cy="0" rx="10.0" ry="8.2" fill="#d3dfa8"/><ellipse cx="1.5" cy="-0.3" rx="6.6" ry="5.4" fill="#dde4b8"/></g>
<g transform="translate(443.1,250.5) rotate(-18)"><ellipse cx="-1.0" cy="1.3" rx="10.0" ry="8.2" fill="#5d7846"/><ellipse cx="0" cy="0" rx="10.0" ry="8.2" fill="#a3c887"/><ellipse cx="1.5" cy="-0.3" rx="6.6" ry="5.4" fill="#aace8d"/></g>
<g transform="translate(454.1,250.8) rotate(-18)"><ellipse cx="-1.0" cy="1.3" rx="10.0" ry="8.2" fill="#5d7846"/><ellipse cx="0" cy="0" rx="10.0" ry="8.2" fill="#a3c887"/><ellipse cx="1.5" cy="-0.3" rx="6.6" ry="5.4" fill="#aace8d"/></g>
<g transform="translate(466.5,249.2) rotate(-18)"><ellipse cx="-1.0" cy="1.4" rx="10.0" ry="8.2" fill="#3e4a30"/><ellipse cx="0" cy="0" rx="10.0" ry="8.2" fill="#d3dfa8"/><ellipse cx="1.5" cy="-0.3" rx="6.6" ry="5.4" fill="#dde4b8"/></g>
<g transform="translate(478.5,250) rotate(-18)"><ellipse cx="-1.0" cy="1.3" rx="10.0" ry="8.2" fill="#5d7846"/><ellipse cx="0" cy="0" rx="10.0" ry="8.2" fill="#a3c887"/><ellipse cx="1.5" cy="-0.3" rx="6.6" ry="5.4" fill="#aace8d"/></g>
<g transform="translate(493.5,249.3) rotate(-18)"><ellipse cx="-1.0" cy="1.3" rx="10.0" ry="8.2" fill="#5d7846"/><ellipse cx="0" cy="0" rx="10.0" ry="8.2" fill="#a3c887"/><ellipse cx="1.5" cy="-0.3" rx="6.6" ry="5.4" fill="#aace8d"/></g>
<g transform="translate(504.2,252.5) rotate(-18)"><ellipse cx="-1.0" cy="1.4" rx="10.0" ry="8.2" fill="#3e4a30"/><ellipse cx="0" cy="0" rx="10.0" ry="8.2" fill="#d3dfa8"/><ellipse cx="1.5" cy="-0.3" rx="6.6" ry="5.4" fill="#dde4b8"/></g>
<g transform="translate(517.5,250.1) rotate(-18)"><ellipse cx="-1.0" cy="1.3" rx="10.0" ry="8.2" fill="#5d7846"/><ellipse cx="0" cy="0" rx="10.0" ry="8.2" fill="#a3c887"/><ellipse cx="1.5" cy="-0.3" rx="6.6" ry="5.4" fill="#aace8d"/></g>
<g transform="translate(527.4,252.5) rotate(-18)"><ellipse cx="-1.0" cy="1.4" rx="10.0" ry="8.2" fill="#3e4a30"/><ellipse cx="0" cy="0" rx="10.0" ry="8.2" fill="#d3dfa8"/><ellipse cx="1.5" cy="-0.3" rx="6.6" ry="5.4" fill="#dde4b8"/></g>
<g transform="translate(388.6,258.7) rotate(-18)"><ellipse cx="-1.0" cy="1.3" rx="10.0" ry="8.2" fill="#5d7846"/><ellipse cx="0" cy="0" rx="10.0" ry="8.2" fill="#a3c887"/><ellipse cx="1.5" cy="-0.3" rx="6.6" ry="5.4" fill="#aace8d"/></g>
<g transform="translate(400.9,259.9) rotate(-18)"><ellipse cx="-1.0" cy="1.3" rx="10.0" ry="8.2" fill="#5d7846"/><ellipse cx="0" cy="0" rx="10.0" ry="8.2" fill="#a3c887"/><ellipse cx="1.5" cy="-0.3" rx="6.6" ry="5.4" fill="#aace8d"/></g>
<g transform="translate(413.1,258) rotate(-18)"><ellipse cx="-1.0" cy="1.3" rx="10.0" ry="8.2" fill="#5d7846"/><ellipse cx="0" cy="0" rx="10.0" ry="8.2" fill="#a3c887"/><ellipse cx="1.5" cy="-0.3" rx="6.6" ry="5.4" fill="#aace8d"/></g>
<g transform="translate(425.5,260.3) rotate(-18)"><ellipse cx="-1.0" cy="1.4" rx="10.0" ry="8.2" fill="#3e4a30"/><ellipse cx="0" cy="0" rx="10.0" ry="8.2" fill="#d3dfa8"/><ellipse cx="1.5" cy="-0.3" rx="6.6" ry="5.4" fill="#dde4b8"/></g>
<g transform="translate(438.8,260.1) rotate(-18)"><ellipse cx="-1.0" cy="1.3" rx="10.0" ry="8.2" fill="#5d7846"/><ellipse cx="0" cy="0" rx="10.0" ry="8.2" fill="#a3c887"/><ellipse cx="1.5" cy="-0.3" rx="6.6" ry="5.4" fill="#aace8d"/></g>
<g transform="translate(450.7,258.2) rotate(-18)"><ellipse cx="-1.0" cy="1.4" rx="10.0" ry="8.2" fill="#3e4a30"/><ellipse cx="0" cy="0" rx="10.0" ry="8.2" fill="#d3dfa8"/><ellipse cx="1.5" cy="-0.3" rx="6.6" ry="5.4" fill="#dde4b8"/></g>
<g transform="translate(463.1,261.5) rotate(-18)"><ellipse cx="-1.0" cy="1.4" rx="10.0" ry="8.2" fill="#3e4a30"/><ellipse cx="0" cy="0" rx="10.0" ry="8.2" fill="#d3dfa8"/><ellipse cx="1.5" cy="-0.3" rx="6.6" ry="5.4" fill="#dde4b8"/></g>
<g transform="translate(473.6,259.6) rotate(-18)"><ellipse cx="-1.0" cy="1.3" rx="10.0" ry="8.2" fill="#5d7846"/><ellipse cx="0" cy="0" rx="10.0" ry="8.2" fill="#a3c887"/><ellipse cx="1.5" cy="-0.3" rx="6.6" ry="5.4" fill="#aace8d"/></g>
<g transform="translate(486.5,258.2) rotate(-18)"><ellipse cx="-1.0" cy="1.3" rx="10.0" ry="8.2" fill="#5d7846"/><ellipse cx="0" cy="0" rx="10.0" ry="8.2" fill="#a3c887"/><ellipse cx="1.5" cy="-0.3" rx="6.6" ry="5.4" fill="#aace8d"/></g>
<g transform="translate(496.8,258.6) rotate(-18)"><ellipse cx="-1.0" cy="1.3" rx="10.0" ry="8.2" fill="#5d7846"/><ellipse cx="0" cy="0" rx="10.0" ry="8.2" fill="#a3c887"/><ellipse cx="1.5" cy="-0.3" rx="6.6" ry="5.4" fill="#aace8d"/></g>
<g transform="translate(508.2,258) rotate(-18)"><ellipse cx="-1.0" cy="1.3" rx="10.0" ry="8.2" fill="#5d7846"/><ellipse cx="0" cy="0" rx="10.0" ry="8.2" fill="#a3c887"/><ellipse cx="1.5" cy="-0.3" rx="6.6" ry="5.4" fill="#aace8d"/></g>
<g transform="translate(520.4,259.5) rotate(-18)"><ellipse cx="-1.0" cy="1.3" rx="10.0" ry="8.2" fill="#5d7846"/><ellipse cx="0" cy="0" rx="10.0" ry="8.2" fill="#a3c887"/><ellipse cx="1.5" cy="-0.3" rx="6.6" ry="5.4" fill="#aace8d"/></g>
<g transform="translate(535.5,260.5) rotate(-18)"><ellipse cx="-1.0" cy="1.3" rx="10.0" ry="8.2" fill="#5d7846"/><ellipse cx="0" cy="0" rx="10.0" ry="8.2" fill="#a3c887"/><ellipse cx="1.5" cy="-0.3" rx="6.6" ry="5.4" fill="#aace8d"/></g>
<g transform="translate(383,268.4) rotate(-18)"><ellipse cx="-1.0" cy="1.3" rx="10.0" ry="8.2" fill="#5d7846"/><ellipse cx="0" cy="0" rx="10.0" ry="8.2" fill="#a3c887"/><ellipse cx="1.5" cy="-0.3" rx="6.6" ry="5.4" fill="#aace8d"/></g>
<g transform="translate(394.5,270.4) rotate(-18)"><ellipse cx="-1.0" cy="1.4" rx="10.0" ry="8.2" fill="#3e4a30"/><ellipse cx="0" cy="0" rx="10.0" ry="8.2" fill="#d3dfa8"/><ellipse cx="1.5" cy="-0.3" rx="6.6" ry="5.4" fill="#dde4b8"/></g>
<g transform="translate(407.9,268.9) rotate(-18)"><ellipse cx="-1.0" cy="1.3" rx="10.0" ry="8.2" fill="#5d7846"/><ellipse cx="0" cy="0" rx="10.0" ry="8.2" fill="#a3c887"/><ellipse cx="1.5" cy="-0.3" rx="6.6" ry="5.4" fill="#aace8d"/></g>
<g transform="translate(418.4,268.4) rotate(-18)"><ellipse cx="-1.0" cy="1.3" rx="10.0" ry="8.2" fill="#5d7846"/><ellipse cx="0" cy="0" rx="10.0" ry="8.2" fill="#a3c887"/><ellipse cx="1.5" cy="-0.3" rx="6.6" ry="5.4" fill="#aace8d"/></g>
<g transform="translate(433.3,267.6) rotate(-18)"><ellipse cx="-1.0" cy="1.3" rx="10.0" ry="8.2" fill="#5d7846"/><ellipse cx="0" cy="0" rx="10.0" ry="8.2" fill="#a3c887"/><ellipse cx="1.5" cy="-0.3" rx="6.6" ry="5.4" fill="#aace8d"/></g>
<g transform="translate(445.8,269.1) rotate(-18)"><ellipse cx="-1.0" cy="1.3" rx="10.0" ry="8.2" fill="#5d7846"/><ellipse cx="0" cy="0" rx="10.0" ry="8.2" fill="#a3c887"/><ellipse cx="1.5" cy="-0.3" rx="6.6" ry="5.4" fill="#aace8d"/></g>
<g transform="translate(456.2,267.1) rotate(-18)"><ellipse cx="-1.0" cy="1.3" rx="10.0" ry="8.2" fill="#5d7846"/><ellipse cx="0" cy="0" rx="10.0" ry="8.2" fill="#a3c887"/><ellipse cx="1.5" cy="-0.3" rx="6.6" ry="5.4" fill="#aace8d"/></g>
<g transform="translate(469.9,270.5) rotate(-18)"><ellipse cx="-1.0" cy="1.3" rx="10.0" ry="8.2" fill="#5d7846"/><ellipse cx="0" cy="0" rx="10.0" ry="8.2" fill="#a3c887"/><ellipse cx="1.5" cy="-0.3" rx="6.6" ry="5.4" fill="#aace8d"/></g>
<g transform="translate(479,268.5) rotate(-18)"><ellipse cx="-1.0" cy="1.3" rx="10.0" ry="8.2" fill="#5d7846"/><ellipse cx="0" cy="0" rx="10.0" ry="8.2" fill="#a3c887"/><ellipse cx="1.5" cy="-0.3" rx="6.6" ry="5.4" fill="#aace8d"/></g>
<g transform="translate(493.1,269.1) rotate(-18)"><ellipse cx="-1.0" cy="1.4" rx="10.0" ry="8.2" fill="#3e4a30"/><ellipse cx="0" cy="0" rx="10.0" ry="8.2" fill="#d3dfa8"/><ellipse cx="1.5" cy="-0.3" rx="6.6" ry="5.4" fill="#dde4b8"/></g>
<g transform="translate(377.3,276.9) rotate(-18)"><ellipse cx="-1.0" cy="1.4" rx="10.0" ry="8.2" fill="#3e4a30"/><ellipse cx="0" cy="0" rx="10.0" ry="8.2" fill="#d3dfa8"/><ellipse cx="1.5" cy="-0.3" rx="6.6" ry="5.4" fill="#dde4b8"/></g>
<g transform="translate(391.9,279.4) rotate(-18)"><ellipse cx="-1.0" cy="1.4" rx="10.0" ry="8.2" fill="#3e4a30"/><ellipse cx="0" cy="0" rx="10.0" ry="8.2" fill="#d3dfa8"/><ellipse cx="1.5" cy="-0.3" rx="6.6" ry="5.4" fill="#dde4b8"/></g>
<g transform="translate(403.3,279) rotate(-18)"><ellipse cx="-1.0" cy="1.3" rx="10.0" ry="8.2" fill="#5d7846"/><ellipse cx="0" cy="0" rx="10.0" ry="8.2" fill="#a3c887"/><ellipse cx="1.5" cy="-0.3" rx="6.6" ry="5.4" fill="#aace8d"/></g>
<g transform="translate(414.1,277.4) rotate(-18)"><ellipse cx="-1.0" cy="1.3" rx="10.0" ry="8.2" fill="#5d7846"/><ellipse cx="0" cy="0" rx="10.0" ry="8.2" fill="#a3c887"/><ellipse cx="1.5" cy="-0.3" rx="6.6" ry="5.4" fill="#aace8d"/></g>
<g transform="translate(424.1,277.1) rotate(-18)"><ellipse cx="-1.0" cy="1.3" rx="10.0" ry="8.2" fill="#5d7846"/><ellipse cx="0" cy="0" rx="10.0" ry="8.2" fill="#a3c887"/><ellipse cx="1.5" cy="-0.3" rx="6.6" ry="5.4" fill="#aace8d"/></g>
<g transform="translate(438.8,279.8) rotate(-18)"><ellipse cx="-1.0" cy="1.3" rx="10.0" ry="8.2" fill="#5d7846"/><ellipse cx="0" cy="0" rx="10.0" ry="8.2" fill="#a3c887"/><ellipse cx="1.5" cy="-0.3" rx="6.6" ry="5.4" fill="#aace8d"/></g>
<g transform="translate(451.7,280) rotate(-18)"><ellipse cx="-1.0" cy="1.4" rx="10.0" ry="8.2" fill="#3e4a30"/><ellipse cx="0" cy="0" rx="10.0" ry="8.2" fill="#d3dfa8"/><ellipse cx="1.5" cy="-0.3" rx="6.6" ry="5.4" fill="#dde4b8"/></g>
<g transform="translate(461.5,276.9) rotate(-18)"><ellipse cx="-1.0" cy="1.3" rx="10.0" ry="8.2" fill="#5d7846"/><ellipse cx="0" cy="0" rx="10.0" ry="8.2" fill="#a3c887"/><ellipse cx="1.5" cy="-0.3" rx="6.6" ry="5.4" fill="#aace8d"/></g>
<g transform="translate(472.8,276.8) rotate(-18)"><ellipse cx="-1.0" cy="1.3" rx="10.0" ry="8.2" fill="#5d7846"/><ellipse cx="0" cy="0" rx="10.0" ry="8.2" fill="#a3c887"/><ellipse cx="1.5" cy="-0.3" rx="6.6" ry="5.4" fill="#aace8d"/></g>
<g transform="translate(385.6,288.4) rotate(-18)"><ellipse cx="-1.0" cy="1.3" rx="10.0" ry="8.2" fill="#5d7846"/><ellipse cx="0" cy="0" rx="10.0" ry="8.2" fill="#a3c887"/><ellipse cx="1.5" cy="-0.3" rx="6.6" ry="5.4" fill="#aace8d"/></g>
<g transform="translate(396.6,288.2) rotate(-18)"><ellipse cx="-1.0" cy="1.3" rx="10.0" ry="8.2" fill="#5d7846"/><ellipse cx="0" cy="0" rx="10.0" ry="8.2" fill="#a3c887"/><ellipse cx="1.5" cy="-0.3" rx="6.6" ry="5.4" fill="#aace8d"/></g>
<g transform="translate(408.6,288.6) rotate(-18)"><ellipse cx="-1.0" cy="1.4" rx="10.0" ry="8.2" fill="#3e4a30"/><ellipse cx="0" cy="0" rx="10.0" ry="8.2" fill="#d3dfa8"/><ellipse cx="1.5" cy="-0.3" rx="6.6" ry="5.4" fill="#dde4b8"/></g>
<g transform="translate(421,286.9) rotate(-18)"><ellipse cx="-1.0" cy="1.3" rx="10.0" ry="8.2" fill="#5d7846"/><ellipse cx="0" cy="0" rx="10.0" ry="8.2" fill="#a3c887"/><ellipse cx="1.5" cy="-0.3" rx="6.6" ry="5.4" fill="#aace8d"/></g>
<g transform="translate(433.2,286.3) rotate(-18)"><ellipse cx="-1.0" cy="1.4" rx="10.0" ry="8.2" fill="#3e4a30"/><ellipse cx="0" cy="0" rx="10.0" ry="8.2" fill="#d3dfa8"/><ellipse cx="1.5" cy="-0.3" rx="6.6" ry="5.4" fill="#dde4b8"/></g>
<g transform="translate(445.9,286.6) rotate(-18)"><ellipse cx="-1.0" cy="1.3" rx="10.0" ry="8.2" fill="#5d7846"/><ellipse cx="0" cy="0" rx="10.0" ry="8.2" fill="#a3c887"/><ellipse cx="1.5" cy="-0.3" rx="6.6" ry="5.4" fill="#aace8d"/></g>
<g transform="translate(457.8,287.9) rotate(-18)"><ellipse cx="-1.0" cy="1.3" rx="10.0" ry="8.2" fill="#5d7846"/><ellipse cx="0" cy="0" rx="10.0" ry="8.2" fill="#a3c887"/><ellipse cx="1.5" cy="-0.3" rx="6.6" ry="5.4" fill="#aace8d"/></g>
<g transform="translate(376.5,294.6) rotate(-18)"><ellipse cx="-1.0" cy="1.4" rx="10.0" ry="8.2" fill="#3e4a30"/><ellipse cx="0" cy="0" rx="10.0" ry="8.2" fill="#d3dfa8"/><ellipse cx="1.5" cy="-0.3" rx="6.6" ry="5.4" fill="#dde4b8"/></g>
<g transform="translate(391.2,294.6) rotate(-18)"><ellipse cx="-1.0" cy="1.4" rx="10.0" ry="8.2" fill="#3e4a30"/><ellipse cx="0" cy="0" rx="10.0" ry="8.2" fill="#d3dfa8"/><ellipse cx="1.5" cy="-0.3" rx="6.6" ry="5.4" fill="#dde4b8"/></g>
<g transform="translate(403.9,296.6) rotate(-18)"><ellipse cx="-1.0" cy="1.3" rx="10.0" ry="8.2" fill="#5d7846"/><ellipse cx="0" cy="0" rx="10.0" ry="8.2" fill="#a3c887"/><ellipse cx="1.5" cy="-0.3" rx="6.6" ry="5.4" fill="#aace8d"/></g>
<g transform="translate(414.2,294.5) rotate(-18)"><ellipse cx="-1.0" cy="1.3" rx="10.0" ry="8.2" fill="#5d7846"/><ellipse cx="0" cy="0" rx="10.0" ry="8.2" fill="#a3c887"/><ellipse cx="1.5" cy="-0.3" rx="6.6" ry="5.4" fill="#aace8d"/></g>
<g transform="translate(427.9,296.6) rotate(-18)"><ellipse cx="-1.0" cy="1.3" rx="10.0" ry="8.2" fill="#5d7846"/><ellipse cx="0" cy="0" rx="10.0" ry="8.2" fill="#a3c887"/><ellipse cx="1.5" cy="-0.3" rx="6.6" ry="5.4" fill="#aace8d"/></g>
<g transform="translate(439.7,295.7) rotate(-18)"><ellipse cx="-1.0" cy="1.4" rx="10.0" ry="8.2" fill="#3e4a30"/><ellipse cx="0" cy="0" rx="10.0" ry="8.2" fill="#d3dfa8"/><ellipse cx="1.5" cy="-0.3" rx="6.6" ry="5.4" fill="#dde4b8"/></g>
<g transform="translate(451.3,294.8) rotate(-18)"><ellipse cx="-1.0" cy="1.3" rx="10.0" ry="8.2" fill="#5d7846"/><ellipse cx="0" cy="0" rx="10.0" ry="8.2" fill="#a3c887"/><ellipse cx="1.5" cy="-0.3" rx="6.6" ry="5.4" fill="#aace8d"/></g>
<g transform="translate(395.2,304) rotate(-18)"><ellipse cx="-1.0" cy="1.3" rx="10.0" ry="8.2" fill="#5d7846"/><ellipse cx="0" cy="0" rx="10.0" ry="8.2" fill="#a3c887"/><ellipse cx="1.5" cy="-0.3" rx="6.6" ry="5.4" fill="#aace8d"/></g>
<g transform="translate(407,304.7) rotate(-18)"><ellipse cx="-1.0" cy="1.3" rx="10.0" ry="8.2" fill="#5d7846"/><ellipse cx="0" cy="0" rx="10.0" ry="8.2" fill="#a3c887"/><ellipse cx="1.5" cy="-0.3" rx="6.6" ry="5.4" fill="#aace8d"/></g>
<g transform="translate(421.6,304.4) rotate(-18)"><ellipse cx="-1.0" cy="1.3" rx="10.0" ry="8.2" fill="#5d7846"/><ellipse cx="0" cy="0" rx="10.0" ry="8.2" fill="#a3c887"/><ellipse cx="1.5" cy="-0.3" rx="6.6" ry="5.4" fill="#aace8d"/></g>
<g transform="translate(432.3,306.6) rotate(-18)"><ellipse cx="-1.0" cy="1.3" rx="10.0" ry="8.2" fill="#5d7846"/><ellipse cx="0" cy="0" rx="10.0" ry="8.2" fill="#a3c887"/><ellipse cx="1.5" cy="-0.3" rx="6.6" ry="5.4" fill="#aace8d"/></g>
<g transform="translate(445.7,305) rotate(-18)"><ellipse cx="-1.0" cy="1.3" rx="10.0" ry="8.2" fill="#5d7846"/><ellipse cx="0" cy="0" rx="10.0" ry="8.2" fill="#a3c887"/><ellipse cx="1.5" cy="-0.3" rx="6.6" ry="5.4" fill="#aace8d"/></g>
<g transform="translate(402.1,312.1) rotate(-18)"><ellipse cx="-1.0" cy="1.3" rx="10.0" ry="8.2" fill="#5d7846"/><ellipse cx="0" cy="0" rx="10.0" ry="8.2" fill="#a3c887"/><ellipse cx="1.5" cy="-0.3" rx="6.6" ry="5.4" fill="#aace8d"/></g>
<g transform="translate(412.7,312) rotate(-18)"><ellipse cx="-1.0" cy="1.4" rx="10.0" ry="8.2" fill="#3e4a30"/><ellipse cx="0" cy="0" rx="10.0" ry="8.2" fill="#d3dfa8"/><ellipse cx="1.5" cy="-0.3" rx="6.6" ry="5.4" fill="#dde4b8"/></g>
<g transform="translate(424.7,313.9) rotate(-18)"><ellipse cx="-1.0" cy="1.4" rx="10.0" ry="8.2" fill="#3e4a30"/><ellipse cx="0" cy="0" rx="10.0" ry="8.2" fill="#d3dfa8"/><ellipse cx="1.5" cy="-0.3" rx="6.6" ry="5.4" fill="#dde4b8"/></g>
<g transform="translate(438.2,313.3) rotate(-18)"><ellipse cx="-1.0" cy="1.3" rx="10.0" ry="8.2" fill="#5d7846"/><ellipse cx="0" cy="0" rx="10.0" ry="8.2" fill="#a3c887"/><ellipse cx="1.5" cy="-0.3" rx="6.6" ry="5.4" fill="#aace8d"/></g>
<g transform="translate(448.4,203.7) rotate(-35)"><ellipse cx="-0.8" cy="1.6" rx="10.0" ry="8.2" fill="#1a1718"/><ellipse cx="0" cy="0" rx="10.0" ry="8.2" fill="#716a6b"/><ellipse cx="1.5" cy="-0.3" rx="6.6" ry="5.4" fill="#787172"/></g>
<g transform="translate(453.9,209.9) rotate(-20)"><ellipse cx="-0.8" cy="1.6" rx="10.0" ry="8.2" fill="#1a1718"/><ellipse cx="0" cy="0" rx="10.0" ry="8.2" fill="#8c8389"/><ellipse cx="1.5" cy="-0.3" rx="6.6" ry="5.4" fill="#968d94"/></g>
<g transform="translate(441.5,210.6) rotate(-35)"><ellipse cx="-0.8" cy="1.6" rx="10.0" ry="8.2" fill="#1a1718"/><ellipse cx="0" cy="0" rx="10.0" ry="8.2" fill="#716a6b"/><ellipse cx="1.5" cy="-0.3" rx="6.6" ry="5.4" fill="#787172"/></g>
<g transform="translate(471.7,212) rotate(-35)"><ellipse cx="-0.8" cy="1.6" rx="10.0" ry="8.2" fill="#1a1718"/><ellipse cx="0" cy="0" rx="10.0" ry="8.2" fill="#716a6b"/><ellipse cx="1.5" cy="-0.3" rx="6.6" ry="5.4" fill="#787172"/></g>
<g transform="translate(436.1,212) rotate(-35)"><ellipse cx="-0.8" cy="1.6" rx="10.0" ry="8.2" fill="#1a1718"/><ellipse cx="0" cy="0" rx="10.0" ry="8.2" fill="#716a6b"/><ellipse cx="1.5" cy="-0.3" rx="6.6" ry="5.4" fill="#787172"/></g>
<g transform="translate(410,212.6) rotate(-35)"><ellipse cx="-0.8" cy="1.6" rx="10.0" ry="8.2" fill="#1a1718"/><ellipse cx="0" cy="0" rx="10.0" ry="8.2" fill="#716a6b"/><ellipse cx="1.5" cy="-0.3" rx="6.6" ry="5.4" fill="#787172"/></g>
<g transform="translate(422.3,217.4) rotate(-35)"><ellipse cx="-0.8" cy="1.6" rx="10.0" ry="8.2" fill="#1a1718"/><ellipse cx="0" cy="0" rx="10.0" ry="8.2" fill="#716a6b"/><ellipse cx="1.5" cy="-0.3" rx="6.6" ry="5.4" fill="#787172"/></g>
<g transform="translate(444.3,218.1) rotate(-20)"><ellipse cx="-0.8" cy="1.6" rx="10.0" ry="8.2" fill="#1a1718"/><ellipse cx="0" cy="0" rx="10.0" ry="8.2" fill="#8c8389"/><ellipse cx="1.5" cy="-0.3" rx="6.6" ry="5.4" fill="#968d94"/></g>
<g transform="translate(416.2,218.8) rotate(-20)"><ellipse cx="-0.8" cy="1.6" rx="10.0" ry="8.2" fill="#1a1718"/><ellipse cx="0" cy="0" rx="10.0" ry="8.2" fill="#8c8389"/><ellipse cx="1.5" cy="-0.3" rx="6.6" ry="5.4" fill="#968d94"/></g>
<g transform="translate(485.5,219.5) rotate(-35)"><ellipse cx="-0.8" cy="1.6" rx="10.0" ry="8.2" fill="#1a1718"/><ellipse cx="0" cy="0" rx="10.0" ry="8.2" fill="#716a6b"/><ellipse cx="1.5" cy="-0.3" rx="6.6" ry="5.4" fill="#787172"/></g>
<g transform="translate(463.5,220.2) rotate(-35)"><ellipse cx="-0.8" cy="1.6" rx="10.0" ry="8.2" fill="#1a1718"/><ellipse cx="0" cy="0" rx="10.0" ry="8.2" fill="#716a6b"/><ellipse cx="1.5" cy="-0.3" rx="6.6" ry="5.4" fill="#787172"/></g>
<g transform="translate(433.3,220.9) rotate(-35)"><ellipse cx="-0.8" cy="1.6" rx="10.0" ry="8.2" fill="#1a1718"/><ellipse cx="0" cy="0" rx="10.0" ry="8.2" fill="#716a6b"/><ellipse cx="1.5" cy="-0.3" rx="6.6" ry="5.4" fill="#787172"/></g>
<g transform="translate(452.5,223.6) rotate(-35)"><ellipse cx="-0.8" cy="1.6" rx="10.0" ry="8.2" fill="#1a1718"/><ellipse cx="0" cy="0" rx="10.0" ry="8.2" fill="#716a6b"/><ellipse cx="1.5" cy="-0.3" rx="6.6" ry="5.4" fill="#787172"/></g>
<g transform="translate(399,223.6) rotate(-35)"><ellipse cx="-0.8" cy="1.6" rx="10.0" ry="8.2" fill="#1a1718"/><ellipse cx="0" cy="0" rx="10.0" ry="8.2" fill="#716a6b"/><ellipse cx="1.5" cy="-0.3" rx="6.6" ry="5.4" fill="#787172"/></g>
<g transform="translate(382.5,231.9) rotate(-35)"><ellipse cx="-0.8" cy="1.6" rx="10.0" ry="8.2" fill="#1a1718"/><ellipse cx="0" cy="0" rx="10.0" ry="8.2" fill="#716a6b"/><ellipse cx="1.5" cy="-0.3" rx="6.6" ry="5.4" fill="#787172"/></g>
<g transform="translate(397.6,235.3) rotate(-20)"><ellipse cx="-0.8" cy="1.6" rx="10.0" ry="8.2" fill="#1a1718"/><ellipse cx="0" cy="0" rx="10.0" ry="8.2" fill="#8c8389"/><ellipse cx="1.5" cy="-0.3" rx="6.6" ry="5.4" fill="#968d94"/></g>
<g transform="translate(390.8,240.8) rotate(-20)"><ellipse cx="-0.8" cy="1.6" rx="10.0" ry="8.2" fill="#1a1718"/><ellipse cx="0" cy="0" rx="10.0" ry="8.2" fill="#8c8389"/><ellipse cx="1.5" cy="-0.3" rx="6.6" ry="5.4" fill="#968d94"/></g>
<g transform="translate(375,244.9) rotate(-20)"><ellipse cx="-0.8" cy="1.6" rx="10.0" ry="8.2" fill="#1a1718"/><ellipse cx="0" cy="0" rx="10.0" ry="8.2" fill="#8c8389"/><ellipse cx="1.5" cy="-0.3" rx="6.6" ry="5.4" fill="#968d94"/></g>
<g transform="translate(386,250.4) rotate(-20)"><ellipse cx="-0.8" cy="1.6" rx="10.0" ry="8.2" fill="#1a1718"/><ellipse cx="0" cy="0" rx="10.0" ry="8.2" fill="#8c8389"/><ellipse cx="1.5" cy="-0.3" rx="6.6" ry="5.4" fill="#968d94"/></g>
<g transform="translate(381.2,258.6) rotate(-20)"><ellipse cx="-0.8" cy="1.6" rx="10.0" ry="8.2" fill="#1a1718"/><ellipse cx="0" cy="0" rx="10.0" ry="8.2" fill="#8c8389"/><ellipse cx="1.5" cy="-0.3" rx="6.6" ry="5.4" fill="#968d94"/></g>
<g transform="translate(364,260) rotate(-35)"><ellipse cx="-0.8" cy="1.6" rx="10.0" ry="8.2" fill="#1a1718"/><ellipse cx="0" cy="0" rx="10.0" ry="8.2" fill="#716a6b"/><ellipse cx="1.5" cy="-0.3" rx="6.6" ry="5.4" fill="#787172"/></g>
<g transform="translate(375,266.8) rotate(-20)"><ellipse cx="-0.8" cy="1.6" rx="10.0" ry="8.2" fill="#1a1718"/><ellipse cx="0" cy="0" rx="10.0" ry="8.2" fill="#8c8389"/><ellipse cx="1.5" cy="-0.3" rx="6.6" ry="5.4" fill="#968d94"/></g>
<g transform="translate(355.8,272.3) rotate(-20)"><ellipse cx="-0.8" cy="1.6" rx="10.0" ry="8.2" fill="#1a1718"/><ellipse cx="0" cy="0" rx="10.0" ry="8.2" fill="#8c8389"/><ellipse cx="1.5" cy="-0.3" rx="6.6" ry="5.4" fill="#968d94"/></g>
<g transform="translate(368.8,277.8) rotate(-20)"><ellipse cx="-0.8" cy="1.6" rx="10.0" ry="8.2" fill="#1a1718"/><ellipse cx="0" cy="0" rx="10.0" ry="8.2" fill="#8c8389"/><ellipse cx="1.5" cy="-0.3" rx="6.6" ry="5.4" fill="#968d94"/></g>
<g transform="translate(471.2,222) rotate(-18)"><ellipse cx="-1.0" cy="1.3" rx="10.0" ry="8.2" fill="#5d7846"/><ellipse cx="0" cy="0" rx="10.0" ry="8.2" fill="#a3c887"/><ellipse cx="1.5" cy="-0.3" rx="6.6" ry="5.4" fill="#aace8d"/></g>
<g transform="translate(471.7,222.9) rotate(-18)"><ellipse cx="-1.0" cy="1.3" rx="10.0" ry="8.2" fill="#5d7846"/><ellipse cx="0" cy="0" rx="10.0" ry="8.2" fill="#a3c887"/><ellipse cx="1.5" cy="-0.3" rx="6.6" ry="5.4" fill="#aace8d"/></g>
<g transform="translate(414.8,228.4) rotate(-18)"><ellipse cx="-1.0" cy="1.3" rx="10.0" ry="8.2" fill="#5d7846"/><ellipse cx="0" cy="0" rx="10.0" ry="8.2" fill="#a3c887"/><ellipse cx="1.5" cy="-0.3" rx="6.6" ry="5.4" fill="#aace8d"/></g>
<g transform="translate(484.9,229.5) rotate(-18)"><ellipse cx="-1.0" cy="1.3" rx="10.0" ry="8.2" fill="#5d7846"/><ellipse cx="0" cy="0" rx="10.0" ry="8.2" fill="#a3c887"/><ellipse cx="1.5" cy="-0.3" rx="6.6" ry="5.4" fill="#aace8d"/></g>
<g transform="translate(447,232.5) rotate(-18)"><ellipse cx="-1.0" cy="1.3" rx="10.0" ry="8.2" fill="#5d7846"/><ellipse cx="0" cy="0" rx="10.0" ry="8.2" fill="#a3c887"/><ellipse cx="1.5" cy="-0.3" rx="6.6" ry="5.4" fill="#aace8d"/></g>
<g transform="translate(467.6,232.5) rotate(-18)"><ellipse cx="-1.0" cy="1.4" rx="10.0" ry="8.2" fill="#3e4a30"/><ellipse cx="0" cy="0" rx="10.0" ry="8.2" fill="#d3dfa8"/><ellipse cx="1.5" cy="-0.3" rx="6.6" ry="5.4" fill="#dde4b8"/></g>
<g transform="translate(447.8,232.9) rotate(-18)"><ellipse cx="-1.0" cy="1.3" rx="10.0" ry="8.2" fill="#5d7846"/><ellipse cx="0" cy="0" rx="10.0" ry="8.2" fill="#a3c887"/><ellipse cx="1.5" cy="-0.3" rx="6.6" ry="5.4" fill="#aace8d"/></g>
<g transform="translate(469.8,233.6) rotate(-18)"><ellipse cx="-1.0" cy="1.4" rx="10.0" ry="8.2" fill="#3e4a30"/><ellipse cx="0" cy="0" rx="10.0" ry="8.2" fill="#d3dfa8"/><ellipse cx="1.5" cy="-0.3" rx="6.6" ry="5.4" fill="#dde4b8"/></g>
<g transform="translate(429.2,233.9) rotate(-18)"><ellipse cx="-1.0" cy="1.3" rx="10.0" ry="8.2" fill="#5d7846"/><ellipse cx="0" cy="0" rx="10.0" ry="8.2" fill="#a3c887"/><ellipse cx="1.5" cy="-0.3" rx="6.6" ry="5.4" fill="#aace8d"/></g>
<g transform="translate(411.4,238) rotate(-18)"><ellipse cx="-1.0" cy="1.4" rx="10.0" ry="8.2" fill="#3e4a30"/><ellipse cx="0" cy="0" rx="10.0" ry="8.2" fill="#d3dfa8"/><ellipse cx="1.5" cy="-0.3" rx="6.6" ry="5.4" fill="#dde4b8"/></g>
<g transform="translate(493.1,239.8) rotate(-18)"><ellipse cx="-1.0" cy="1.4" rx="10.0" ry="8.2" fill="#3e4a30"/><ellipse cx="0" cy="0" rx="10.0" ry="8.2" fill="#d3dfa8"/><ellipse cx="1.5" cy="-0.3" rx="6.6" ry="5.4" fill="#dde4b8"/></g>
<g transform="translate(452.5,243.5) rotate(-18)"><ellipse cx="-1.0" cy="1.3" rx="10.0" ry="8.2" fill="#5d7846"/><ellipse cx="0" cy="0" rx="10.0" ry="8.2" fill="#a3c887"/><ellipse cx="1.5" cy="-0.3" rx="6.6" ry="5.4" fill="#aace8d"/></g>
<g transform="translate(453.3,243.9) rotate(-18)"><ellipse cx="-1.0" cy="1.3" rx="10.0" ry="8.2" fill="#5d7846"/><ellipse cx="0" cy="0" rx="10.0" ry="8.2" fill="#a3c887"/><ellipse cx="1.5" cy="-0.3" rx="6.6" ry="5.4" fill="#aace8d"/></g>
<g transform="translate(434.7,246.3) rotate(-18)"><ellipse cx="-1.0" cy="1.4" rx="10.0" ry="8.2" fill="#3e4a30"/><ellipse cx="0" cy="0" rx="10.0" ry="8.2" fill="#d3dfa8"/><ellipse cx="1.5" cy="-0.3" rx="6.6" ry="5.4" fill="#dde4b8"/></g>
<g transform="translate(434.1,246.7) rotate(-18)"><ellipse cx="-1.0" cy="1.4" rx="10.0" ry="8.2" fill="#3e4a30"/><ellipse cx="0" cy="0" rx="10.0" ry="8.2" fill="#d3dfa8"/><ellipse cx="1.5" cy="-0.3" rx="6.6" ry="5.4" fill="#dde4b8"/></g>
<g transform="translate(475.3,246.7) rotate(-18)"><ellipse cx="-1.0" cy="1.3" rx="10.0" ry="8.2" fill="#5d7846"/><ellipse cx="0" cy="0" rx="10.0" ry="8.2" fill="#a3c887"/><ellipse cx="1.5" cy="-0.3" rx="6.6" ry="5.4" fill="#aace8d"/></g>
<g transform="translate(396.9,247.6) rotate(-18)"><ellipse cx="-1.0" cy="1.3" rx="10.0" ry="8.2" fill="#5d7846"/><ellipse cx="0" cy="0" rx="10.0" ry="8.2" fill="#a3c887"/><ellipse cx="1.5" cy="-0.3" rx="6.6" ry="5.4" fill="#aace8d"/></g>
<g transform="translate(475.2,247.6) rotate(-18)"><ellipse cx="-1.0" cy="1.3" rx="10.0" ry="8.2" fill="#5d7846"/><ellipse cx="0" cy="0" rx="10.0" ry="8.2" fill="#a3c887"/><ellipse cx="1.5" cy="-0.3" rx="6.6" ry="5.4" fill="#aace8d"/></g>
<g transform="translate(505.5,250.8) rotate(-18)"><ellipse cx="-1.0" cy="1.4" rx="10.0" ry="8.2" fill="#3e4a30"/><ellipse cx="0" cy="0" rx="10.0" ry="8.2" fill="#d3dfa8"/><ellipse cx="1.5" cy="-0.3" rx="6.6" ry="5.4" fill="#dde4b8"/></g>
<g transform="translate(535.7,252.1) rotate(-18)"><ellipse cx="-1.0" cy="1.3" rx="10.0" ry="8.2" fill="#5d7846"/><ellipse cx="0" cy="0" rx="10.0" ry="8.2" fill="#a3c887"/><ellipse cx="1.5" cy="-0.3" rx="6.6" ry="5.4" fill="#aace8d"/></g>
<g transform="translate(418.9,253.1) rotate(-18)"><ellipse cx="-1.0" cy="1.3" rx="10.0" ry="8.2" fill="#5d7846"/><ellipse cx="0" cy="0" rx="10.0" ry="8.2" fill="#a3c887"/><ellipse cx="1.5" cy="-0.3" rx="6.6" ry="5.4" fill="#aace8d"/></g>
<g transform="translate(444.3,254.5) rotate(-18)"><ellipse cx="-1.0" cy="1.4" rx="10.0" ry="8.2" fill="#3e4a30"/><ellipse cx="0" cy="0" rx="10.0" ry="8.2" fill="#d3dfa8"/><ellipse cx="1.5" cy="-0.3" rx="6.6" ry="5.4" fill="#dde4b8"/></g>
<g transform="translate(442.3,254.9) rotate(-18)"><ellipse cx="-1.0" cy="1.4" rx="10.0" ry="8.2" fill="#3e4a30"/><ellipse cx="0" cy="0" rx="10.0" ry="8.2" fill="#d3dfa8"/><ellipse cx="1.5" cy="-0.3" rx="6.6" ry="5.4" fill="#dde4b8"/></g>
<g transform="translate(517.8,254.9) rotate(-18)"><ellipse cx="-1.0" cy="1.3" rx="10.0" ry="8.2" fill="#5d7846"/><ellipse cx="0" cy="0" rx="10.0" ry="8.2" fill="#a3c887"/><ellipse cx="1.5" cy="-0.3" rx="6.6" ry="5.4" fill="#aace8d"/></g>
<g transform="translate(495.9,254.9) rotate(-18)"><ellipse cx="-1.0" cy="1.3" rx="10.0" ry="8.2" fill="#5d7846"/><ellipse cx="0" cy="0" rx="10.0" ry="8.2" fill="#a3c887"/><ellipse cx="1.5" cy="-0.3" rx="6.6" ry="5.4" fill="#aace8d"/></g>
<g transform="translate(459.4,255.9) rotate(-18)"><ellipse cx="-1.0" cy="1.4" rx="10.0" ry="8.2" fill="#3e4a30"/><ellipse cx="0" cy="0" rx="10.0" ry="8.2" fill="#d3dfa8"/><ellipse cx="1.5" cy="-0.3" rx="6.6" ry="5.4" fill="#dde4b8"/></g>
<g transform="translate(458.8,256.3) rotate(-18)"><ellipse cx="-1.0" cy="1.4" rx="10.0" ry="8.2" fill="#3e4a30"/><ellipse cx="0" cy="0" rx="10.0" ry="8.2" fill="#d3dfa8"/><ellipse cx="1.5" cy="-0.3" rx="6.6" ry="5.4" fill="#dde4b8"/></g>
<g transform="translate(524.7,257.6) rotate(-18)"><ellipse cx="-1.0" cy="1.4" rx="10.0" ry="8.2" fill="#3e4a30"/><ellipse cx="0" cy="0" rx="10.0" ry="8.2" fill="#d3dfa8"/><ellipse cx="1.5" cy="-0.3" rx="6.6" ry="5.4" fill="#dde4b8"/></g>
<g transform="translate(482.1,261.7) rotate(-18)"><ellipse cx="-1.0" cy="1.3" rx="10.0" ry="8.2" fill="#5d7846"/><ellipse cx="0" cy="0" rx="10.0" ry="8.2" fill="#a3c887"/><ellipse cx="1.5" cy="-0.3" rx="6.6" ry="5.4" fill="#aace8d"/></g>
<g transform="translate(427.8,262.7) rotate(-18)"><ellipse cx="-1.0" cy="1.3" rx="10.0" ry="8.2" fill="#5d7846"/><ellipse cx="0" cy="0" rx="10.0" ry="8.2" fill="#a3c887"/><ellipse cx="1.5" cy="-0.3" rx="6.6" ry="5.4" fill="#aace8d"/></g>
<g transform="translate(390.8,262.7) rotate(-18)"><ellipse cx="-1.0" cy="1.3" rx="10.0" ry="8.2" fill="#5d7846"/><ellipse cx="0" cy="0" rx="10.0" ry="8.2" fill="#a3c887"/><ellipse cx="1.5" cy="-0.3" rx="6.6" ry="5.4" fill="#aace8d"/></g>
<g transform="translate(506.8,264.5) rotate(-18)"><ellipse cx="-1.0" cy="1.3" rx="10.0" ry="8.2" fill="#5d7846"/><ellipse cx="0" cy="0" rx="10.0" ry="8.2" fill="#a3c887"/><ellipse cx="1.5" cy="-0.3" rx="6.6" ry="5.4" fill="#aace8d"/></g>
<g transform="translate(422.3,266.8) rotate(-18)"><ellipse cx="-1.0" cy="1.3" rx="10.0" ry="8.2" fill="#5d7846"/><ellipse cx="0" cy="0" rx="10.0" ry="8.2" fill="#a3c887"/><ellipse cx="1.5" cy="-0.3" rx="6.6" ry="5.4" fill="#aace8d"/></g>
<g transform="translate(405.2,267.5) rotate(-18)"><ellipse cx="-1.0" cy="1.3" rx="10.0" ry="8.2" fill="#5d7846"/><ellipse cx="0" cy="0" rx="10.0" ry="8.2" fill="#a3c887"/><ellipse cx="1.5" cy="-0.3" rx="6.6" ry="5.4" fill="#aace8d"/></g>
<g transform="translate(447,268.2) rotate(-18)"><ellipse cx="-1.0" cy="1.3" rx="10.0" ry="8.2" fill="#5d7846"/><ellipse cx="0" cy="0" rx="10.0" ry="8.2" fill="#a3c887"/><ellipse cx="1.5" cy="-0.3" rx="6.6" ry="5.4" fill="#aace8d"/></g>
<g transform="translate(463.5,269.6) rotate(-18)"><ellipse cx="-1.0" cy="1.3" rx="10.0" ry="8.2" fill="#5d7846"/><ellipse cx="0" cy="0" rx="10.0" ry="8.2" fill="#a3c887"/><ellipse cx="1.5" cy="-0.3" rx="6.6" ry="5.4" fill="#aace8d"/></g>
<g transform="translate(446.5,270) rotate(-18)"><ellipse cx="-1.0" cy="1.3" rx="10.0" ry="8.2" fill="#5d7846"/><ellipse cx="0" cy="0" rx="10.0" ry="8.2" fill="#a3c887"/><ellipse cx="1.5" cy="-0.3" rx="6.6" ry="5.4" fill="#aace8d"/></g>
<g transform="translate(464.3,270) rotate(-18)"><ellipse cx="-1.0" cy="1.3" rx="10.0" ry="8.2" fill="#5d7846"/><ellipse cx="0" cy="0" rx="10.0" ry="8.2" fill="#a3c887"/><ellipse cx="1.5" cy="-0.3" rx="6.6" ry="5.4" fill="#aace8d"/></g>
<g transform="translate(389.4,272.3) rotate(-18)"><ellipse cx="-1.0" cy="1.4" rx="10.0" ry="8.2" fill="#3e4a30"/><ellipse cx="0" cy="0" rx="10.0" ry="8.2" fill="#d3dfa8"/><ellipse cx="1.5" cy="-0.3" rx="6.6" ry="5.4" fill="#dde4b8"/></g>
<g transform="translate(432.6,273.7) rotate(-18)"><ellipse cx="-1.0" cy="1.4" rx="10.0" ry="8.2" fill="#3e4a30"/><ellipse cx="0" cy="0" rx="10.0" ry="8.2" fill="#d3dfa8"/><ellipse cx="1.5" cy="-0.3" rx="6.6" ry="5.4" fill="#dde4b8"/></g>
<g transform="translate(434.1,274.1) rotate(-18)"><ellipse cx="-1.0" cy="1.4" rx="10.0" ry="8.2" fill="#3e4a30"/><ellipse cx="0" cy="0" rx="10.0" ry="8.2" fill="#d3dfa8"/><ellipse cx="1.5" cy="-0.3" rx="6.6" ry="5.4" fill="#dde4b8"/></g>
<g transform="translate(476.7,275.5) rotate(-18)"><ellipse cx="-1.0" cy="1.4" rx="10.0" ry="8.2" fill="#3e4a30"/><ellipse cx="0" cy="0" rx="10.0" ry="8.2" fill="#d3dfa8"/><ellipse cx="1.5" cy="-0.3" rx="6.6" ry="5.4" fill="#dde4b8"/></g>
<g transform="translate(475.8,276.4) rotate(-18)"><ellipse cx="-1.0" cy="1.4" rx="10.0" ry="8.2" fill="#3e4a30"/><ellipse cx="0" cy="0" rx="10.0" ry="8.2" fill="#d3dfa8"/><ellipse cx="1.5" cy="-0.3" rx="6.6" ry="5.4" fill="#dde4b8"/></g>
<g transform="translate(453.9,279.2) rotate(-18)"><ellipse cx="-1.0" cy="1.4" rx="10.0" ry="8.2" fill="#3e4a30"/><ellipse cx="0" cy="0" rx="10.0" ry="8.2" fill="#d3dfa8"/><ellipse cx="1.5" cy="-0.3" rx="6.6" ry="5.4" fill="#dde4b8"/></g>
<g transform="translate(411.4,279.2) rotate(-18)"><ellipse cx="-1.0" cy="1.4" rx="10.0" ry="8.2" fill="#3e4a30"/><ellipse cx="0" cy="0" rx="10.0" ry="8.2" fill="#d3dfa8"/><ellipse cx="1.5" cy="-0.3" rx="6.6" ry="5.4" fill="#dde4b8"/></g>
<g transform="translate(454,281) rotate(-18)"><ellipse cx="-1.0" cy="1.4" rx="10.0" ry="8.2" fill="#3e4a30"/><ellipse cx="0" cy="0" rx="10.0" ry="8.2" fill="#d3dfa8"/><ellipse cx="1.5" cy="-0.3" rx="6.6" ry="5.4" fill="#dde4b8"/></g>
<g transform="translate(374.3,281.9) rotate(-18)"><ellipse cx="-1.0" cy="1.3" rx="10.0" ry="8.2" fill="#5d7846"/><ellipse cx="0" cy="0" rx="10.0" ry="8.2" fill="#a3c887"/><ellipse cx="1.5" cy="-0.3" rx="6.6" ry="5.4" fill="#aace8d"/></g>
<g transform="translate(418.9,283.3) rotate(-18)"><ellipse cx="-1.0" cy="1.3" rx="10.0" ry="8.2" fill="#5d7846"/><ellipse cx="0" cy="0" rx="10.0" ry="8.2" fill="#a3c887"/><ellipse cx="1.5" cy="-0.3" rx="6.6" ry="5.4" fill="#aace8d"/></g>
<g transform="translate(463.5,284.7) rotate(-18)"><ellipse cx="-1.0" cy="1.4" rx="10.0" ry="8.2" fill="#3e4a30"/><ellipse cx="0" cy="0" rx="10.0" ry="8.2" fill="#d3dfa8"/><ellipse cx="1.5" cy="-0.3" rx="6.6" ry="5.4" fill="#dde4b8"/></g>
<g transform="translate(464.3,285.1) rotate(-18)"><ellipse cx="-1.0" cy="1.4" rx="10.0" ry="8.2" fill="#3e4a30"/><ellipse cx="0" cy="0" rx="10.0" ry="8.2" fill="#d3dfa8"/><ellipse cx="1.5" cy="-0.3" rx="6.6" ry="5.4" fill="#dde4b8"/></g>
<g transform="translate(397.6,286.1) rotate(-18)"><ellipse cx="-1.0" cy="1.3" rx="10.0" ry="8.2" fill="#5d7846"/><ellipse cx="0" cy="0" rx="10.0" ry="8.2" fill="#a3c887"/><ellipse cx="1.5" cy="-0.3" rx="6.6" ry="5.4" fill="#aace8d"/></g>
<g transform="translate(438.8,286.1) rotate(-18)"><ellipse cx="-1.0" cy="1.3" rx="10.0" ry="8.2" fill="#5d7846"/><ellipse cx="0" cy="0" rx="10.0" ry="8.2" fill="#a3c887"/><ellipse cx="1.5" cy="-0.3" rx="6.6" ry="5.4" fill="#aace8d"/></g>
<g transform="translate(438.2,287.8) rotate(-18)"><ellipse cx="-1.0" cy="1.3" rx="10.0" ry="8.2" fill="#5d7846"/><ellipse cx="0" cy="0" rx="10.0" ry="8.2" fill="#a3c887"/><ellipse cx="1.5" cy="-0.3" rx="6.6" ry="5.4" fill="#aace8d"/></g>
<g transform="translate(424.4,296.3) rotate(-18)"><ellipse cx="-1.0" cy="1.4" rx="10.0" ry="8.2" fill="#3e4a30"/><ellipse cx="0" cy="0" rx="10.0" ry="8.2" fill="#d3dfa8"/><ellipse cx="1.5" cy="-0.3" rx="6.6" ry="5.4" fill="#dde4b8"/></g>
<g transform="translate(379.8,297) rotate(-18)"><ellipse cx="-1.0" cy="1.4" rx="10.0" ry="8.2" fill="#3e4a30"/><ellipse cx="0" cy="0" rx="10.0" ry="8.2" fill="#d3dfa8"/><ellipse cx="1.5" cy="-0.3" rx="6.6" ry="5.4" fill="#dde4b8"/></g>
<g transform="translate(405.9,298.4) rotate(-18)"><ellipse cx="-1.0" cy="1.3" rx="10.0" ry="8.2" fill="#5d7846"/><ellipse cx="0" cy="0" rx="10.0" ry="8.2" fill="#a3c887"/><ellipse cx="1.5" cy="-0.3" rx="6.6" ry="5.4" fill="#aace8d"/></g>
<g transform="translate(441.5,301.1) rotate(-18)"><ellipse cx="-1.0" cy="1.3" rx="10.0" ry="8.2" fill="#5d7846"/><ellipse cx="0" cy="0" rx="10.0" ry="8.2" fill="#a3c887"/><ellipse cx="1.5" cy="-0.3" rx="6.6" ry="5.4" fill="#aace8d"/></g>
<g transform="translate(441,302.9) rotate(-18)"><ellipse cx="-1.0" cy="1.3" rx="10.0" ry="8.2" fill="#5d7846"/><ellipse cx="0" cy="0" rx="10.0" ry="8.2" fill="#a3c887"/><ellipse cx="1.5" cy="-0.3" rx="6.6" ry="5.4" fill="#aace8d"/></g>
<g transform="translate(396.3,306.6) rotate(-18)"><ellipse cx="-1.0" cy="1.3" rx="10.0" ry="8.2" fill="#5d7846"/><ellipse cx="0" cy="0" rx="10.0" ry="8.2" fill="#a3c887"/><ellipse cx="1.5" cy="-0.3" rx="6.6" ry="5.4" fill="#aace8d"/></g>
<g transform="translate(427.8,308) rotate(-18)"><ellipse cx="-1.0" cy="1.3" rx="10.0" ry="8.2" fill="#5d7846"/><ellipse cx="0" cy="0" rx="10.0" ry="8.2" fill="#a3c887"/><ellipse cx="1.5" cy="-0.3" rx="6.6" ry="5.4" fill="#aace8d"/></g>
<g transform="translate(438.8,312.1) rotate(-18)"><ellipse cx="-1.0" cy="1.3" rx="10.0" ry="8.2" fill="#5d7846"/><ellipse cx="0" cy="0" rx="10.0" ry="8.2" fill="#a3c887"/><ellipse cx="1.5" cy="-0.3" rx="6.6" ry="5.4" fill="#aace8d"/></g>
<g transform="translate(435.5,312.5) rotate(-18)"><ellipse cx="-1.0" cy="1.3" rx="10.0" ry="8.2" fill="#5d7846"/><ellipse cx="0" cy="0" rx="10.0" ry="8.2" fill="#a3c887"/><ellipse cx="1.5" cy="-0.3" rx="6.6" ry="5.4" fill="#aace8d"/></g>
<g transform="translate(414.1,314.9) rotate(-18)"><ellipse cx="-1.0" cy="1.4" rx="10.0" ry="8.2" fill="#3e4a30"/><ellipse cx="0" cy="0" rx="10.0" ry="8.2" fill="#d3dfa8"/><ellipse cx="1.5" cy="-0.3" rx="6.6" ry="5.4" fill="#dde4b8"/></g>
<g transform="translate(526.1,265.9) rotate(-12)"><ellipse cx="0.5" cy="1.8" rx="10.0" ry="8.2" fill="#6e2812"/><ellipse cx="0" cy="0" rx="10.0" ry="8.2" fill="#c66730"/><ellipse cx="1.5" cy="-0.3" rx="6.6" ry="5.4" fill="#ca6c35"/></g>
<g transform="translate(552.1,265.9) rotate(-12)"><ellipse cx="0.5" cy="1.8" rx="10.0" ry="8.2" fill="#6e2812"/><ellipse cx="0" cy="0" rx="10.0" ry="8.2" fill="#c66730"/><ellipse cx="1.5" cy="-0.3" rx="6.6" ry="5.4" fill="#ca6c35"/></g>
<g transform="translate(537,268.6) rotate(-12)"><ellipse cx="0.5" cy="1.8" rx="10.0" ry="8.2" fill="#6e2812"/><ellipse cx="0" cy="0" rx="10.0" ry="8.2" fill="#c66730"/><ellipse cx="1.5" cy="-0.3" rx="6.6" ry="5.4" fill="#ca6c35"/></g>
<g transform="translate(513.7,268.6) rotate(-12)"><ellipse cx="0.5" cy="1.8" rx="10.0" ry="8.2" fill="#6e2812"/><ellipse cx="0" cy="0" rx="10.0" ry="8.2" fill="#c66730"/><ellipse cx="1.5" cy="-0.3" rx="6.6" ry="5.4" fill="#ca6c35"/></g>
<g transform="translate(542.5,274.1) rotate(-12)"><ellipse cx="0.5" cy="1.8" rx="10.0" ry="8.2" fill="#6e2812"/><ellipse cx="0" cy="0" rx="10.0" ry="8.2" fill="#c66730"/><ellipse cx="1.5" cy="-0.3" rx="6.6" ry="5.4" fill="#ca6c35"/></g>
<g transform="translate(519.2,275.5) rotate(-12)"><ellipse cx="0.5" cy="1.8" rx="10.0" ry="8.2" fill="#6e2812"/><ellipse cx="0" cy="0" rx="10.0" ry="8.2" fill="#c66730"/><ellipse cx="1.5" cy="-0.3" rx="6.6" ry="5.4" fill="#ca6c35"/></g>
<g transform="translate(490.4,276.8) rotate(-12)"><ellipse cx="0.5" cy="1.8" rx="10.0" ry="8.2" fill="#6e2812"/><ellipse cx="0" cy="0" rx="10.0" ry="8.2" fill="#c66730"/><ellipse cx="1.5" cy="-0.3" rx="6.6" ry="5.4" fill="#ca6c35"/></g>
<g transform="translate(502.7,278.9) rotate(-12)"><ellipse cx="0.5" cy="1.8" rx="10.0" ry="8.2" fill="#6e2812"/><ellipse cx="0" cy="0" rx="10.0" ry="8.2" fill="#c66730"/><ellipse cx="1.5" cy="-0.3" rx="6.6" ry="5.4" fill="#ca6c35"/></g>
<g transform="translate(528.8,289.2) rotate(-12)"><ellipse cx="0.5" cy="1.8" rx="10.0" ry="8.2" fill="#6e2812"/><ellipse cx="0" cy="0" rx="10.0" ry="8.2" fill="#c66730"/><ellipse cx="1.5" cy="-0.3" rx="6.6" ry="5.4" fill="#ca6c35"/></g>
<g transform="translate(550.8,290.6) rotate(-12)"><ellipse cx="0.5" cy="1.8" rx="10.0" ry="8.2" fill="#6e2812"/><ellipse cx="0" cy="0" rx="10.0" ry="8.2" fill="#c66730"/><ellipse cx="1.5" cy="-0.3" rx="6.6" ry="5.4" fill="#ca6c35"/></g>
<g transform="translate(491.7,290.6) rotate(-12)"><ellipse cx="0.5" cy="1.8" rx="10.0" ry="8.2" fill="#6e2812"/><ellipse cx="0" cy="0" rx="10.0" ry="8.2" fill="#c66730"/><ellipse cx="1.5" cy="-0.3" rx="6.6" ry="5.4" fill="#ca6c35"/></g>
<g transform="translate(482.1,293.3) rotate(-12)"><ellipse cx="0.5" cy="1.8" rx="10.0" ry="8.2" fill="#6e2812"/><ellipse cx="0" cy="0" rx="10.0" ry="8.2" fill="#c66730"/><ellipse cx="1.5" cy="-0.3" rx="6.6" ry="5.4" fill="#ca6c35"/></g>
<g transform="translate(467,294.7) rotate(-12)"><ellipse cx="0.5" cy="1.8" rx="10.0" ry="8.2" fill="#6e2812"/><ellipse cx="0" cy="0" rx="10.0" ry="8.2" fill="#c66730"/><ellipse cx="1.5" cy="-0.3" rx="6.6" ry="5.4" fill="#ca6c35"/></g>
<g transform="translate(475.3,294.7) rotate(-12)"><ellipse cx="0.5" cy="1.8" rx="10.0" ry="8.2" fill="#6e2812"/><ellipse cx="0" cy="0" rx="10.0" ry="8.2" fill="#c66730"/><ellipse cx="1.5" cy="-0.3" rx="6.6" ry="5.4" fill="#ca6c35"/></g>
<g transform="translate(506.8,296.1) rotate(-12)"><ellipse cx="0.5" cy="1.8" rx="10.0" ry="8.2" fill="#6e2812"/><ellipse cx="0" cy="0" rx="10.0" ry="8.2" fill="#c66730"/><ellipse cx="1.5" cy="-0.3" rx="6.6" ry="5.4" fill="#ca6c35"/></g>
<g transform="translate(497.2,298.8) rotate(-12)"><ellipse cx="0.5" cy="1.8" rx="10.0" ry="8.2" fill="#6e2812"/><ellipse cx="0" cy="0" rx="10.0" ry="8.2" fill="#c66730"/><ellipse cx="1.5" cy="-0.3" rx="6.6" ry="5.4" fill="#ca6c35"/></g>
<g transform="translate(486.8,299.8) rotate(-12)"><ellipse cx="0.5" cy="1.8" rx="10.0" ry="8.2" fill="#6e2812"/><ellipse cx="0" cy="0" rx="10.0" ry="8.2" fill="#c66730"/><ellipse cx="1.5" cy="-0.3" rx="6.6" ry="5.4" fill="#ca6c35"/></g>
<g transform="translate(509.6,304.3) rotate(-12)"><ellipse cx="0.5" cy="1.8" rx="10.0" ry="8.2" fill="#6e2812"/><ellipse cx="0" cy="0" rx="10.0" ry="8.2" fill="#c66730"/><ellipse cx="1.5" cy="-0.3" rx="6.6" ry="5.4" fill="#ca6c35"/></g>
<g transform="translate(475.3,304.3) rotate(-12)"><ellipse cx="0.5" cy="1.8" rx="10.0" ry="8.2" fill="#6e2812"/><ellipse cx="0" cy="0" rx="10.0" ry="8.2" fill="#c66730"/><ellipse cx="1.5" cy="-0.3" rx="6.6" ry="5.4" fill="#ca6c35"/></g>
<g transform="translate(519.2,304.3) rotate(-12)"><ellipse cx="0.5" cy="1.8" rx="10.0" ry="8.2" fill="#6e2812"/><ellipse cx="0" cy="0" rx="10.0" ry="8.2" fill="#c66730"/><ellipse cx="1.5" cy="-0.3" rx="6.6" ry="5.4" fill="#ca6c35"/></g>
<g transform="translate(524.7,307) rotate(-12)"><ellipse cx="0.5" cy="1.8" rx="10.0" ry="8.2" fill="#6e2812"/><ellipse cx="0" cy="0" rx="10.0" ry="8.2" fill="#c66730"/><ellipse cx="1.5" cy="-0.3" rx="6.6" ry="5.4" fill="#ca6c35"/></g>
<g transform="translate(464.3,308.4) rotate(-12)"><ellipse cx="0.5" cy="1.8" rx="10.0" ry="8.2" fill="#6e2812"/><ellipse cx="0" cy="0" rx="10.0" ry="8.2" fill="#c66730"/><ellipse cx="1.5" cy="-0.3" rx="6.6" ry="5.4" fill="#ca6c35"/></g>
<g transform="translate(501.4,312.5) rotate(-12)"><ellipse cx="0.5" cy="1.8" rx="10.0" ry="8.2" fill="#6e2812"/><ellipse cx="0" cy="0" rx="10.0" ry="8.2" fill="#c66730"/><ellipse cx="1.5" cy="-0.3" rx="6.6" ry="5.4" fill="#ca6c35"/></g>
<g transform="translate(450.6,312.5) rotate(-12)"><ellipse cx="0.5" cy="1.8" rx="10.0" ry="8.2" fill="#6e2812"/><ellipse cx="0" cy="0" rx="10.0" ry="8.2" fill="#c66730"/><ellipse cx="1.5" cy="-0.3" rx="6.6" ry="5.4" fill="#ca6c35"/></g>
<g transform="translate(516.4,315.3) rotate(-12)"><ellipse cx="0.5" cy="1.8" rx="10.0" ry="8.2" fill="#6e2812"/><ellipse cx="0" cy="0" rx="10.0" ry="8.2" fill="#c66730"/><ellipse cx="1.5" cy="-0.3" rx="6.6" ry="5.4" fill="#ca6c35"/></g>
<g transform="translate(549.4,276.8) rotate(-12)"><ellipse cx="0.5" cy="1.7" rx="10.0" ry="8.2" fill="#6b2010"/><ellipse cx="0" cy="0" rx="10.0" ry="8.2" fill="#e08a52"/><ellipse cx="1.5" cy="-0.3" rx="6.6" ry="5.4" fill="#e99361"/></g>
<g transform="translate(531.5,281) rotate(-12)"><ellipse cx="0.5" cy="1.7" rx="10.0" ry="8.2" fill="#6b2010"/><ellipse cx="0" cy="0" rx="10.0" ry="8.2" fill="#e08a52"/><ellipse cx="1.5" cy="-0.3" rx="6.6" ry="5.4" fill="#e99361"/></g>
<g transform="translate(557.6,283.7) rotate(-12)"><ellipse cx="0.5" cy="1.7" rx="10.0" ry="8.2" fill="#6b2010"/><ellipse cx="0" cy="0" rx="10.0" ry="8.2" fill="#e08a52"/><ellipse cx="1.5" cy="-0.3" rx="6.6" ry="5.4" fill="#e99361"/></g>
<g transform="translate(543.9,283.7) rotate(-12)"><ellipse cx="0.5" cy="1.7" rx="10.0" ry="8.2" fill="#6b2010"/><ellipse cx="0" cy="0" rx="10.0" ry="8.2" fill="#e08a52"/><ellipse cx="1.5" cy="-0.3" rx="6.6" ry="5.4" fill="#e99361"/></g>
<g transform="translate(487.6,284.4) rotate(-12)"><ellipse cx="0.5" cy="1.7" rx="10.0" ry="8.2" fill="#6b2010"/><ellipse cx="0" cy="0" rx="10.0" ry="8.2" fill="#e08a52"/><ellipse cx="1.5" cy="-0.3" rx="6.6" ry="5.4" fill="#e99361"/></g>
<g transform="translate(511,287.8) rotate(-12)"><ellipse cx="0.5" cy="1.7" rx="10.0" ry="8.2" fill="#6b2010"/><ellipse cx="0" cy="0" rx="10.0" ry="8.2" fill="#e08a52"/><ellipse cx="1.5" cy="-0.3" rx="6.6" ry="5.4" fill="#e99361"/></g>
<g transform="translate(523.3,294.7) rotate(-12)"><ellipse cx="0.5" cy="1.7" rx="10.0" ry="8.2" fill="#6b2010"/><ellipse cx="0" cy="0" rx="10.0" ry="8.2" fill="#e08a52"/><ellipse cx="1.5" cy="-0.3" rx="6.6" ry="5.4" fill="#e99361"/></g>
<g transform="translate(538.4,297.4) rotate(-12)"><ellipse cx="0.5" cy="1.7" rx="10.0" ry="8.2" fill="#6b2010"/><ellipse cx="0" cy="0" rx="10.0" ry="8.2" fill="#e08a52"/><ellipse cx="1.5" cy="-0.3" rx="6.6" ry="5.4" fill="#e99361"/></g>
<g transform="translate(538.4,305.7) rotate(-12)"><ellipse cx="0.5" cy="1.7" rx="10.0" ry="8.2" fill="#6b2010"/><ellipse cx="0" cy="0" rx="10.0" ry="8.2" fill="#e08a52"/><ellipse cx="1.5" cy="-0.3" rx="6.6" ry="5.4" fill="#e99361"/></g>
<g transform="translate(482.1,309.8) rotate(-12)"><ellipse cx="0.5" cy="1.7" rx="10.0" ry="8.2" fill="#6b2010"/><ellipse cx="0" cy="0" rx="10.0" ry="8.2" fill="#e08a52"/><ellipse cx="1.5" cy="-0.3" rx="6.6" ry="5.4" fill="#e99361"/></g>
<g transform="translate(484.9,320.8) rotate(-12)"><ellipse cx="0.5" cy="1.7" rx="10.0" ry="8.2" fill="#6b2010"/><ellipse cx="0" cy="0" rx="10.0" ry="8.2" fill="#e08a52"/><ellipse cx="1.5" cy="-0.3" rx="6.6" ry="5.4" fill="#e99361"/></g>
<g transform="translate(459.5,322.1) rotate(-12)"><ellipse cx="0.5" cy="1.7" rx="10.0" ry="8.2" fill="#6b2010"/><ellipse cx="0" cy="0" rx="10.0" ry="8.2" fill="#e08a52"/><ellipse cx="1.5" cy="-0.3" rx="6.6" ry="5.4" fill="#e99361"/></g>
<path d="M538.7,247.8C538.3,245.7 543.3,244.7 545.9,245.3C548.5,245.9 551.4,248.7 554.1,251.5C556.9,254.2 560.6,258.3 562.4,261.8C564.1,265.2 565.1,271.4 564.4,272.1C563.7,272.7 561,268.3 558.2,265.9C555.5,263.5 551.2,260.7 547.9,257.6C544.7,254.6 539,249.8 538.7,247.8Z" fill="#7cad55"/>
<path d="M616.9,250.4C618.5,247.7 621.1,245.6 624.1,245.3C627.1,245 633.4,246.3 634.8,248.4C636.3,250.4 634.4,254.2 632.8,257.6C631.2,261.1 627,265.5 625.1,269C623.3,272.5 623.2,277 621.6,278.6C620.1,280.3 617,281.5 615.9,278.6C614.8,275.8 614.7,266.5 614.9,261.8C615,257.1 615.4,253.2 616.9,250.4Z" fill="#7cad55"/>
<path d="M541.8,247.4C542.1,245.3 546.6,244.3 550,241.2C553.4,238.1 558.9,230.9 562.4,228.8C565.8,226.8 567.2,227.5 570.6,228.8C574,230.2 578.1,235 582.9,237.1C587.7,239.1 593.6,240 599.4,241.2C605.2,242.4 614.4,241.5 617.5,244.3C620.7,247 618.6,252.7 618.4,257.6C618.1,262.6 616.8,267.9 616.3,274.1C615.7,280.3 615.4,287.8 615.1,294.7C614.7,301.6 615.4,310.7 614.2,315.3C613.1,319.9 611.9,321.1 608.1,322.5C604.2,323.9 596,324.3 591.2,323.9C586.3,323.6 582.5,322.6 578.8,320.4C575.1,318.3 571.3,315.5 568.9,311.2C566.6,306.9 565.8,300.9 564.8,294.7C563.9,288.5 564.5,279.6 563.4,274.1C562.3,268.6 560.8,265.2 558.2,261.8C555.7,258.3 550.7,255.9 547.9,253.5C545.2,251.1 541.4,249.4 541.8,247.4Z" fill="#8fbe6a"/>
<path d="M521.2,171.2C521.2,166 527,164.1 531.5,160.9C535.9,157.6 542.8,154.4 547.9,151.6C553.1,148.9 557.2,146.5 562.4,144.4C567.5,142.4 573.3,139.8 578.8,139.3C584.3,138.8 590.8,141.1 595.3,141.3C599.8,141.6 601.5,139.9 605.6,140.7C609.7,141.5 615.5,144.1 620,146.1C624.5,148 628.9,150.2 632.4,152.6C635.9,155.1 638.6,157 641,160.9C643.4,164.7 644.4,172.6 646.8,175.7C649.1,178.8 651.6,177.1 655,179.4C658.4,181.7 664.1,185.9 667.4,189.7C670.6,193.5 673.1,197.9 674.6,202.1C676,206.2 676.7,210 676,214.4C675.3,218.9 673.3,224.7 670.4,228.8C667.6,232.9 663.4,236.4 659.1,239.1C654.8,241.9 649.2,244.3 644.7,245.3C640.2,246.3 636.1,246 632.4,245.3C628.6,244.6 626.9,243.2 622.1,241.2C617.3,239.1 613.5,237.7 603.5,232.9C593.6,228.1 574.4,219.2 562.4,212.4C550.3,205.5 538.3,198.6 531.5,191.8C524.6,184.9 521.2,176.3 521.2,171.2Z" fill="#3b7434"/>
<path d="M566.5,144.4C567.5,142.5 572,141.2 574.7,141.3C577.5,141.5 581.2,143.9 582.9,145.4C584.7,147 586,149.2 585,150.6C584,152 579.5,153.3 576.8,153.7C574,154 570.2,154.2 568.5,152.6C566.8,151.1 565.4,146.3 566.5,144.4Z" fill="#52a552"/>
<path d="M552.1,154.7C552.6,153 556.9,152.6 558.2,153.7C559.6,154.7 560.8,159.2 560.3,160.9C559.8,162.6 556.5,165 555.1,164C553.8,162.9 551.5,156.4 552.1,154.7Z" fill="#52a552"/>
<path d="M585,160.9C585.7,158.1 591.9,151.6 595.3,148.5C598.7,145.4 602.5,142.7 605.6,142.4C608.7,142 613.5,144.8 613.8,146.5C614.2,148.2 610,149.9 607.6,152.6C605.2,155.4 602.2,160.9 599.4,162.9C596.7,165 593.6,165.3 591.2,165C588.8,164.7 584.3,163.6 585,160.9Z" fill="#52a552"/>
<path d="M620,158.8C620.7,156.8 625.1,155.7 628.2,156.8C631.3,157.8 636.5,162.3 638.5,165C640.6,167.7 641.6,171.5 640.6,173.2C639.6,175 635.1,176 632.4,175.3C629.6,174.6 626.2,171.9 624.1,169.1C622.1,166.4 619.3,160.9 620,158.8Z" fill="#52a552"/>
<path d="M632.4,181.5C633.4,179.9 640.6,178.7 642.6,179.4C644.7,180.1 645.7,184 644.7,185.6C643.7,187.1 638.5,189.4 636.5,188.7C634.4,188 631.3,183 632.4,181.5Z" fill="#52a552"/>
<path d="M645.7,188.7C647.1,188.2 653.3,189 655,189.7C656.7,190.4 657.4,192.3 656,192.8C654.7,193.3 648.5,193.5 646.8,192.8C645,192.1 644.4,189.2 645.7,188.7Z" fill="#52a552"/>
<path d="M649.9,200C651.4,197.9 656.2,195.5 659.1,195.9C662,196.2 665.8,199.3 667.4,202.1C668.9,204.8 669.4,209.4 668.4,212.4C667.4,215.3 663.8,218.9 661.2,219.6C658.6,220.2 654.8,218.4 652.9,216.5C651.1,214.6 650.4,211 649.9,208.2C649.3,205.5 648.3,202.1 649.9,200Z" fill="#52a552"/>
<path d="M649.9,218.5C650.4,216.8 652.5,216.8 652.9,218.5C653.4,220.2 653.1,227.1 652.5,228.8C652,230.5 650.1,230.5 649.6,228.8C649.2,227.1 649.3,220.2 649.9,218.5Z" fill="#52a552"/>
<path d="M568.5,167.1C569.2,165.3 574.7,167.4 576.8,169.1C578.8,170.8 581.6,175.6 580.9,177.4C580.2,179.1 574.7,181.1 572.6,179.4C570.6,177.7 567.8,168.8 568.5,167.1Z" fill="#52a552"/>
<path d="M609.7,169.1C610.7,167.9 617.9,167.2 620,168.1C622.1,168.9 623.1,173.1 622.1,174.3C621,175.5 615.9,176.2 613.8,175.3C611.8,174.4 608.7,170.3 609.7,169.1Z" fill="#52a552"/>
<clipPath id="flc"><path d="M494.9,204.2C494.9,199.2 495.4,193.9 496.9,189.5C498.3,185.1 501.1,180.4 503.7,177.7C506.3,175 509.4,174 512.5,173.3C515.7,172.7 518.8,173.8 522.4,173.8C525.9,173.8 530.4,173 534.1,173.3C537.9,173.7 541.5,174.4 544.9,175.8C548.3,177.2 551.8,179.2 554.7,181.7C557.6,184.1 560.5,186.7 562.5,190.5C564.6,194.2 566.4,199.3 567,204.2C567.5,209.1 566.7,215 566,219.9C565.2,224.8 564.8,229.9 562.5,233.6C560.3,237.4 556.7,240.3 552.7,242.5C548.8,244.6 543.3,245.7 539,246.4C534.8,247 531.3,247.2 527.3,246.4C523.2,245.6 518.4,243.8 514.5,241.5C510.6,239.2 506.7,236.2 503.7,232.6C500.8,229.1 498.3,224.6 496.9,219.9C495.4,215.2 494.9,209.3 494.9,204.2Z"/></clipPath><clipPath id="frc"><path d="M560.1,219.9C560.3,215.7 561,210.8 562.7,206.2C564.5,201.6 567.5,196.5 570.4,192.5C573.3,188.4 576.9,184.4 580.2,181.7C583.5,178.9 586.2,176.9 590,175.8C593.8,174.6 598.5,174.3 602.7,174.8C607,175.3 611.6,176.6 615.5,178.7C619.4,180.8 623.2,184.1 626.3,187.5C629.4,191 632.4,195.2 634.1,199.3C635.8,203.4 636.6,207.6 636.6,212.1C636.6,216.5 635.7,221.2 634.1,225.8C632.6,230.4 630,235.4 627.3,239.5C624.5,243.6 621.4,247.4 617.5,250.3C613.5,253.2 608.3,255.8 603.7,257.2C599.2,258.5 594.2,258.8 590,258.1C585.8,257.5 582,255.7 578.2,253.2C574.5,250.8 570.3,247 567.5,243.4C564.6,239.8 562.6,235.6 561.4,231.7C560.1,227.7 559.9,224.2 560.1,219.9Z"/></clipPath>
<g fill="none" stroke="#52a552" stroke-width="4.2" stroke-linecap="round">
<path d="M567.5,175.8C568.4,175.6 571.5,175.8 573.3,174.8C575.1,173.8 577,171.1 578.2,169.9C579.5,168.7 580.3,167.9 580.7,167.5"/>
<path d="M573.3,174.8C573.9,175.6 575.5,178.2 576.8,179.7C578.1,181.2 580.4,183 581.2,183.6"/>
</g>
<path d="M494.9,204.2C494.9,199.2 495.4,193.9 496.9,189.5C498.3,185.1 501.1,180.4 503.7,177.7C506.3,175 509.4,174 512.5,173.3C515.7,172.7 518.8,173.8 522.4,173.8C525.9,173.8 530.4,173 534.1,173.3C537.9,173.7 541.5,174.4 544.9,175.8C548.3,177.2 551.8,179.2 554.7,181.7C557.6,184.1 560.5,186.7 562.5,190.5C564.6,194.2 566.4,199.3 567,204.2C567.5,209.1 566.7,215 566,219.9C565.2,224.8 564.8,229.9 562.5,233.6C560.3,237.4 556.7,240.3 552.7,242.5C548.8,244.6 543.3,245.7 539,246.4C534.8,247 531.3,247.2 527.3,246.4C523.2,245.6 518.4,243.8 514.5,241.5C510.6,239.2 506.7,236.2 503.7,232.6C500.8,229.1 498.3,224.6 496.9,219.9C495.4,215.2 494.9,209.3 494.9,204.2Z" fill="#52a552"/>
<path d="M560.1,219.9C560.3,215.7 561,210.8 562.7,206.2C564.5,201.6 567.5,196.5 570.4,192.5C573.3,188.4 576.9,184.4 580.2,181.7C583.5,178.9 586.2,176.9 590,175.8C593.8,174.6 598.5,174.3 602.7,174.8C607,175.3 611.6,176.6 615.5,178.7C619.4,180.8 623.2,184.1 626.3,187.5C629.4,191 632.4,195.2 634.1,199.3C635.8,203.4 636.6,207.6 636.6,212.1C636.6,216.5 635.7,221.2 634.1,225.8C632.6,230.4 630,235.4 627.3,239.5C624.5,243.6 621.4,247.4 617.5,250.3C613.5,253.2 608.3,255.8 603.7,257.2C599.2,258.5 594.2,258.8 590,258.1C585.8,257.5 582,255.7 578.2,253.2C574.5,250.8 570.3,247 567.5,243.4C564.6,239.8 562.6,235.6 561.4,231.7C560.1,227.7 559.9,224.2 560.1,219.9Z" fill="#52a552"/>
<g clip-path="url(#flc)" fill="none" stroke="#468a41" stroke-width="6.8" stroke-linecap="round" stroke-linejoin="round">
<path d="M509.6,175.8C508.3,177.6 503.2,183 501.8,186.6C500.3,190.2 500.3,194.4 500.8,197.4C501.3,200.3 504.1,203.1 504.7,204.2"/>
<path d="M503.7,206.2C505.2,206.5 510.4,207.3 512.5,208.1C514.7,209 515.8,210.6 516.5,211.1"/>
<path d="M499.8,216C501.4,215.7 507,215.2 509.6,214C512.2,212.9 514.5,209.9 515.5,209.1"/>
<path d="M501.8,223.8C502.7,225.1 505.8,229.1 507.6,231.7C509.4,234.3 511.7,238.2 512.5,239.5"/>
<path d="M515.5,225.8C516.8,226.8 521,229.9 523.3,231.7C525.6,233.5 528.2,235.8 529.2,236.6"/>
<path d="M526.3,243.4C527.9,242.9 533,241.3 536.1,240.5C539.2,239.7 542.1,239.7 544.9,238.5C547.7,237.4 550.6,235.9 552.7,233.6C554.9,231.3 556.8,226.3 557.6,224.8"/>
<path d="M527.3,216C527.6,217.6 527.7,224.5 529.2,225.8C530.7,227.1 533.5,224 536.1,223.8C538.7,223.7 543.4,224.6 544.9,224.8"/>
<path d="M541,214C542.3,214.3 547.5,215.7 548.8,216"/>
<path d="M531.2,180.7C532.8,180.8 538.4,181 541,181.7C543.6,182.3 546.5,183.1 546.9,184.6C547.2,186.1 543.3,188.4 542.9,190.5C542.6,192.6 544.6,196.2 544.9,197.4"/>
<path d="M519.4,184.6C519.9,186.1 522.5,191.3 522.4,193.4C522.2,195.6 519.1,196.7 518.4,197.4"/>
<path d="M527.3,193.4C528.2,194.1 531.5,197.4 533.1,197.4C534.8,197.4 536.4,194.1 537.1,193.4"/>
<path d="M525.3,206.2C526.3,205.8 530.2,204.5 531.2,204.2"/>
<path d="M552.7,191.5C554.1,191.1 558,189.3 560.6,189.5C563.2,189.7 567.1,192 568.4,192.5"/>
<path d="M557.6,197.4C558.8,197.2 563.4,196.5 564.5,196.4"/>
<path d="M553.7,209.1C554.5,208.6 557.5,205.4 558.6,206.2C559.8,207 560.3,212.7 560.6,214"/>
<path d="M512.5,182.6C513.4,182 516.6,179.4 517.5,178.7"/>
<path d="M506.7,193.4C507.3,193.1 509.9,191.8 510.6,191.5"/>
</g>
<g fill="none" stroke="#468a41" stroke-width="6.8" stroke-linecap="round" stroke-linejoin="round">
<path d="M587.1,179.7C588.5,179.9 593.4,180.2 595.9,180.7C598.3,181.2 600.8,182.3 601.8,182.6"/>
<path d="M578.2,189.5C579.2,188.7 582.5,184.9 584.1,184.6C585.8,184.3 587.4,187.1 588,187.5"/>
<path d="M575.3,198.3C576.3,197.5 579.2,193.6 581.2,193.4C583.1,193.3 586.1,196.7 587.1,197.4"/>
<path d="M574.3,207.2C574.6,206.2 575.9,202.3 576.3,201.3"/>
<path d="M568.4,222.8C569.2,221.4 571.7,216.8 573.3,214C575,211.2 577.4,207.5 578.2,206.2"/>
<path d="M594.9,190.5C596.2,190.3 600.1,189.7 602.7,189.5C605.4,189.3 609.3,189.5 610.6,189.5"/>
<path d="M595.9,204.2C596.2,203.2 595.9,199.5 597.8,198.3C599.8,197.2 604.7,196.9 607.6,197.4C610.6,197.8 614.2,200.6 615.5,201.3"/>
<path d="M619.4,187.5C620.4,188.9 623.3,192.9 625.3,195.4C627.3,197.8 630.5,199.8 631.2,202.3C631.8,204.7 629.5,208.8 629.2,210.1"/>
<path d="M588,216C589,215.3 591.3,212.5 593.9,212.1C596.5,211.6 601.4,211.7 603.7,213C606,214.3 607.6,217.8 607.6,219.9C607.6,222 606.3,224.6 603.7,225.8C601.1,226.9 594.9,227.3 592,226.8C589,226.3 586.7,224.6 586.1,222.8C585.4,221.1 587.7,217.5 588,216.5"/>
<path d="M596.9,219.9C597.5,219.8 600.1,219.5 600.8,219.4"/>
<path d="M620.4,208.1C620.9,209.4 622.2,213.4 623.3,216C624.5,218.6 627.4,221.5 627.3,223.8C627.1,226.1 623.2,228.7 622.4,229.7"/>
<path d="M612.5,233.6C613.5,232.6 617.5,228.7 618.4,227.7"/>
<path d="M568.4,233.6C569.1,233.1 570.7,230.4 572.4,230.7C574,231 577.3,234.8 578.2,235.6"/>
<path d="M571.4,240.5C572.5,241 576.8,242.6 578.2,243.4C579.7,244.2 579.9,245.1 580.2,245.4"/>
<path d="M583.1,238.5C584.6,239 589.7,240.7 592,241.5C594.2,242.3 596,243.1 596.9,243.4"/>
<path d="M590,234.6C591.3,235.1 596.4,236.2 597.8,237.5C599.3,238.9 598.7,241.6 598.8,242.5"/>
<path d="M603.7,246.4C604.1,245.6 604.1,241.6 605.7,241.5C607.3,241.3 611.6,244.9 613.5,245.4C615.5,245.9 616.8,244.6 617.5,244.4"/>
<path d="M611.6,207.2C612.5,207.8 616.5,210.4 617.5,211.1"/>
</g>
</g>
<g id="fruit">
<path d="M316,488.4Q330.6,468.8 356,465.8Q347.1,458.2 338.8,447.6Q356.5,446 368.2,455.4Q360,446.5 351.3,438.9Q362.4,436.6 368.7,439.9Q358.8,419.4 320,414.2Q358.8,398.2 376.5,429.5Q375.3,413.5 377.2,399.4Q384.2,413.5 388.9,428.8Q398.8,406.5 419.3,398.2Q405.9,413.5 401.6,432.8Q420,417.1 450.1,418.2Q428.2,428.8 403.5,445.3Q417.6,434.7 440,433.5Q425.9,445.3 402.8,455.4Q420,446.5 441.9,445.3Q435.3,452.4 425.9,457.1Q447.1,457.1 456,471.9Q441.2,464.8 422.4,471.2Q410.6,476.6 391.8,479.4Q358.8,480.6 342.4,481.3Q325.9,482.2 316,488.4Z" fill="#006633"/>
<clipPath id="pineclip"><path d="M391.8,474.7C398.4,475.3 406.9,477.1 412.9,480.6C419,484.1 424.1,489.8 428.2,495.9C432.4,502 435.4,509.2 437.6,517.1C439.9,524.9 441.3,534.3 441.6,542.9C442,551.6 441.5,560.2 440,568.8C438.5,577.5 435.9,587.5 432.9,594.7C430,602 426.9,607.8 422.4,612.4C417.8,616.9 411.4,619.8 405.9,621.8C400.4,623.7 395.3,624.1 389.4,624.1C383.5,624.1 376.7,624.1 370.6,621.8C364.5,619.4 357.8,615.3 352.9,610C348,604.7 344.3,597.3 341.2,590C338,582.7 335.6,573.1 334.1,566.5C332.7,559.8 332.3,556.7 332.5,550C332.7,543.3 333.5,534.3 335.3,526.5C337.1,518.6 340,509.6 343.5,502.9C347.1,496.3 351.6,490.8 356.5,486.5C361.4,482.2 367.1,479 372.9,477.1C378.8,475.1 385.1,474.1 391.8,474.7Z"/></clipPath>
<path d="M391.8,474.7C398.4,475.3 406.9,477.1 412.9,480.6C419,484.1 424.1,489.8 428.2,495.9C432.4,502 435.4,509.2 437.6,517.1C439.9,524.9 441.3,534.3 441.6,542.9C442,551.6 441.5,560.2 440,568.8C438.5,577.5 435.9,587.5 432.9,594.7C430,602 426.9,607.8 422.4,612.4C417.8,616.9 411.4,619.8 405.9,621.8C400.4,623.7 395.3,624.1 389.4,624.1C383.5,624.1 376.7,624.1 370.6,621.8C364.5,619.4 357.8,615.3 352.9,610C348,604.7 344.3,597.3 341.2,590C338,582.7 335.6,573.1 334.1,566.5C332.7,559.8 332.3,556.7 332.5,550C332.7,543.3 333.5,534.3 335.3,526.5C337.1,518.6 340,509.6 343.5,502.9C347.1,496.3 351.6,490.8 356.5,486.5C361.4,482.2 367.1,479 372.9,477.1C378.8,475.1 385.1,474.1 391.8,474.7Z" fill="#ffee58" stroke="#f7a325" stroke-width="1.2"/>
<g clip-path="url(#pineclip)" fill="#ffae4e">
<path d="M386.8,504.6L403.5,496.4L420.5,505.5L403.5,514.2Z"/>
<path d="M345.6,521.8L362.4,513.5L379.3,522.7L362.4,531.4Z"/>
<path d="M403.3,525.8L420,517.5L436.9,526.7L420,535.4Z"/>
<path d="M366.8,534L383.5,525.8L400.5,534.9L383.5,543.6Z"/>
<path d="M393.9,541.1L410.6,532.8L427.5,542L410.6,550.7Z"/>
<path d="M342.8,556.8L359.5,548.6L376.5,557.8L359.5,566.5Z"/>
<path d="M377.4,557.5L394.1,549.3L411.1,558.5L394.1,567.2Z"/>
<path d="M359.8,568.8L376.5,560.6L393.4,569.8L376.5,578.5Z"/>
<path d="M344.5,582.2L361.2,574L378.1,583.2L361.2,591.9Z"/>
<path d="M396.2,588.1L412.9,579.9L429.9,589.1L412.9,597.8Z"/>
<path d="M375.5,599.4L392.2,591.2L409.2,600.4L392.2,609.1Z"/>
<path d="M397.9,609.3L414.6,601.1L431.5,610.2L414.6,618.9Z"/>
</g>
<path d="M561.7,545C565.3,542.2 567.8,543.2 571.7,543.3C575.6,543.5 579.7,543.9 585,545.8C590.3,547.8 597.5,551.5 603.3,555C609.2,558.5 615,562.8 620,566.7C625,570.6 629.6,574.2 633.3,578.3C637.1,582.5 640.8,588.3 642.5,591.7C644.2,595 644,595.8 643.3,598.3C642.6,600.8 641.1,603.9 638.3,606.7C635.6,609.4 631.4,612.6 626.7,615C621.9,617.4 616.7,619.2 610,620.8C603.3,622.5 593.9,624.4 586.7,625C579.4,625.6 572.2,625 566.7,624.2C561.1,623.3 556.8,621.7 553.3,620C549.9,618.3 547.5,618.6 545.8,614.2C544.2,609.7 542.6,602.4 543.3,593.3C544,584.3 546.9,568.1 550,560C553.1,551.9 558.1,547.8 561.7,545Z" fill="#e01f00"/>
<ellipse cx="587.2" cy="553.8" rx="2.3" ry="1.4" fill="#1a0800" transform="rotate(-15 587.2 553.8)"/>
<ellipse cx="604.7" cy="568" rx="2.3" ry="1.4" fill="#1a0800" transform="rotate(-15 604.7 568)"/>
<ellipse cx="625.3" cy="579.7" rx="2.3" ry="1.4" fill="#1a0800" transform="rotate(-15 625.3 579.7)"/>
<ellipse cx="592.2" cy="581.7" rx="2.3" ry="1.4" fill="#1a0800" transform="rotate(-15 592.2 581.7)"/>
<ellipse cx="612.8" cy="592.5" rx="2.3" ry="1.4" fill="#1a0800" transform="rotate(-15 612.8 592.5)"/>
<ellipse cx="632" cy="592.5" rx="2.3" ry="1.4" fill="#1a0800" transform="rotate(-15 632 592.5)"/>
<ellipse cx="602.5" cy="595.5" rx="2.3" ry="1.4" fill="#1a0800" transform="rotate(-15 602.5 595.5)"/>
<ellipse cx="629.2" cy="601.7" rx="2.3" ry="1.4" fill="#1a0800" transform="rotate(-15 629.2 601.7)"/>
<ellipse cx="576.2" cy="604.5" rx="2.3" ry="1.4" fill="#1a0800" transform="rotate(-15 576.2 604.5)"/>
<ellipse cx="593.3" cy="603" rx="2.3" ry="1.4" fill="#1a0800" transform="rotate(-15 593.3 603)"/>
<ellipse cx="610.8" cy="612.5" rx="2.3" ry="1.4" fill="#1a0800" transform="rotate(-15 610.8 612.5)"/>
<ellipse cx="568" cy="612.8" rx="2.3" ry="1.4" fill="#1a0800" transform="rotate(-15 568 612.8)"/>
<ellipse cx="585.5" cy="617.8" rx="2.3" ry="1.4" fill="#1a0800" transform="rotate(-15 585.5 617.8)"/>
<path d="M470,552.5C467.2,551.8 463.6,548.8 460,548C456.4,547.2 452.2,546.9 448.3,547.5C444.4,548.1 439.7,549.3 436.7,551.7C433.6,554 431.5,557.5 430,561.7C428.5,565.8 427.5,571.7 427.5,576.7C427.5,581.7 428.2,586.9 430,591.7C431.8,596.4 435,600.9 438.3,605C441.7,609.1 446,613.4 450,616.3C454,619.2 458.3,621.5 462.5,622.5C466.7,623.5 470.8,623.6 475,622.3C479.2,621 483.9,618.1 487.5,614.7C491.1,611.2 494.3,606.1 496.7,601.7C499,597.3 500.6,592.8 501.7,588.3C502.8,583.9 503.5,578.9 503.3,575C503.2,571.1 502.5,567.9 500.8,565C499.2,562.1 496.2,559.4 493.3,557.5C490.4,555.6 486.1,554.2 483.3,553.3C480.6,552.4 478.9,552.3 476.7,552.2C474.4,552 472.8,553.2 470,552.5Z" fill="#c1272d"/>
<path d="M504.7,570C504.5,565.3 504.9,563.1 506.7,560C508.4,556.9 511.4,553.9 515,551.7C518.6,549.4 523.1,547.8 528.3,546.7C533.6,545.6 541.1,544.9 546.7,545C552.2,545.1 557.2,546.1 561.7,547.5C566.1,548.9 570.1,550.7 573.3,553.3C576.5,556 579,559.4 580.8,563.3C582.6,567.2 583.9,572.2 584.2,576.7C584.4,581.1 584,585.8 582.5,590C581,594.2 578.5,598.3 575,601.7C571.5,605 566.9,608 561.7,610C556.4,612 549.2,613.5 543.3,613.7C537.5,613.8 531.4,612.8 526.7,610.8C521.9,608.8 518.2,605.4 515,601.7C511.8,597.9 509.2,593.6 507.5,588.3C505.8,583.1 504.8,574.7 504.7,570Z" fill="#c1272d"/>
<ellipse cx="471.3" cy="554.7" rx="6.5" ry="2.5" fill="#981d22" transform="rotate(8 471.3 554.7)"/>
<path d="M537.5,566.7C537.8,565.3 538.5,563.8 540,563C541.5,562.2 544,562.2 546.7,562C549.3,561.8 553.6,561.5 555.8,562C558.1,562.5 559.5,563.4 560,565C560.5,566.6 559.8,569.6 558.7,571.3C557.6,573.1 555.1,574.4 553.3,575.3C551.6,576.2 550.1,576.7 548.3,576.7C546.5,576.6 544.2,575.9 542.5,575C540.8,574.1 539.2,572.7 538.3,571.3C537.5,569.9 537.2,568.1 537.5,566.7Z" fill="#8e1b1f"/>
<path d="M497,566.7Q505.3,577.5 496.3,589.7Q499.7,577.5 497,566.7Z" fill="#ffffff"/>
<path d="M575.3,560Q588.3,575 575.5,591.3Q579.2,575 575.3,560Z" fill="#ffffff"/>
<path d="M532,482.5C528.3,485.4 517,493.2 510,500C503,506.8 495.6,516.4 490,523.3C484.4,530.3 479.9,536.7 476.7,541.7C473.4,546.7 471.5,551.4 470.5,553.3" fill="none" stroke="#39b54a" stroke-width="4" stroke-linecap="round"/>
<path d="M535,485C535.6,489.2 536.9,501.4 538.3,510C539.7,518.6 541.8,528.9 543.3,536.7C544.9,544.4 546.6,551.2 547.5,556.7C548.4,562.1 548.6,567.1 548.8,569.2" fill="none" stroke="#39b54a" stroke-width="4.6" stroke-linecap="round"/>
<path d="M534.7,470C535.6,468.7 535.1,469 536.7,469.7C538.2,470.3 543,472.9 544.2,474C545.3,475.1 544.5,474.9 543.7,476.3C542.8,477.8 540.2,480.4 539.2,482.5C538.1,484.6 538.5,488.1 537.5,489.2C536.5,490.3 534.6,489.9 533.3,489.2C532.1,488.5 531.1,486 530,485C528.9,484 526.4,484.6 526.7,483.3C526.9,482.1 530,479.7 531.3,477.5C532.7,475.3 533.8,471.3 534.7,470Z" fill="#39b54a"/>
</g>
<g id="nuts">
<clipPath id="hz1"><path d="M392.4,738.8C385.9,740 386.4,741.5 383.5,744.1C380.7,746.8 377.5,750.6 375.3,754.7C373,758.8 371.1,764.1 370,768.8C368.9,773.5 368.6,778.2 368.8,782.9C369,787.6 370.1,792.9 371.2,797.1C372.3,801.2 373.8,804.7 375.3,807.6C376.8,810.6 377.5,812.2 380,814.7C382.5,817.3 386.1,820.8 390.6,822.9C395.1,825.1 398.4,826.9 407.1,827.6C415.7,828.4 432.5,829.6 442.4,827.6C452.2,825.7 460.4,822.2 465.9,815.9C471.4,809.6 473.3,795.9 475.3,790C477.3,784.1 477.4,783.5 477.6,780.6C477.9,777.6 478,775.9 477.1,772.4C476.1,768.8 474,763.5 471.8,759.4C469.5,755.3 466.7,750.9 463.5,747.6C460.4,744.4 459.8,741.4 452.9,739.6C446.1,737.9 432.5,737.2 422.4,737.1C412.3,736.9 398.8,737.6 392.4,738.8Z"/></clipPath>
<path d="M392.4,738.8C385.9,740 386.4,741.5 383.5,744.1C380.7,746.8 377.5,750.6 375.3,754.7C373,758.8 371.1,764.1 370,768.8C368.9,773.5 368.6,778.2 368.8,782.9C369,787.6 370.1,792.9 371.2,797.1C372.3,801.2 373.8,804.7 375.3,807.6C376.8,810.6 377.5,812.2 380,814.7C382.5,817.3 386.1,820.8 390.6,822.9C395.1,825.1 398.4,826.9 407.1,827.6C415.7,828.4 432.5,829.6 442.4,827.6C452.2,825.7 460.4,822.2 465.9,815.9C471.4,809.6 473.3,795.9 475.3,790C477.3,784.1 477.4,783.5 477.6,780.6C477.9,777.6 478,775.9 477.1,772.4C476.1,768.8 474,763.5 471.8,759.4C469.5,755.3 466.7,750.9 463.5,747.6C460.4,744.4 459.8,741.4 452.9,739.6C446.1,737.9 432.5,737.2 422.4,737.1C412.3,736.9 398.8,737.6 392.4,738.8Z" fill="#8b3e2b"/>
<g clip-path="url(#hz1)">
<path d="M444.1,741.8C445.1,737.8 450.5,737.6 454.1,738.2C457.7,738.8 461.8,741.8 465.9,745.3C470,748.8 476.1,753.5 478.8,759.4C481.6,765.3 482.5,773.1 482.4,780.6C482.2,788 481.4,799.8 477.6,804.1C473.9,808.4 463.9,808 460,806.5C456.1,804.9 455.8,799 454.1,794.7C452.5,790.4 451,786.1 450,780.6C449,775.1 449.2,768.2 448.2,761.8C447.3,755.3 443.1,745.7 444.1,741.8Z" fill="#7a3424"/>
<path d="M377.6,814.7C378.6,812 385.5,808.4 389.4,806.5C393.3,804.5 397.6,803.8 401.2,802.9C404.7,802.1 408.6,799 410.6,801.2C412.5,803.3 414.9,811.5 412.9,815.9C411,820.3 403.7,826.5 398.8,827.6C393.9,828.8 387.1,825.1 383.5,822.9C380,820.8 376.7,817.5 377.6,814.7Z" fill="#a8745e"/>
<g fill="none" stroke="#ad6853" stroke-width="1.6" stroke-linecap="round">
<path d="M395.3,740.8C393.1,743.9 385.3,752.8 382.4,759.4C379.4,766 377.5,773.1 377.6,780.6C377.8,788 382.5,800.2 383.5,804.1"/>
<path d="M401.2,741.5C399,744.9 390.9,754.9 388.2,761.8C385.6,768.7 384.9,775.9 385.3,782.9C385.7,790 389.7,800.6 390.6,804.1"/>
<path d="M407.1,742.4C405.3,745.6 398.6,755 396.5,761.8C394.3,768.5 393.9,776.1 394.1,782.9C394.3,789.8 397.1,799.6 397.6,802.9"/>
<path d="M411.8,742.4C410.4,745.6 405.1,755 403.5,761.8C402,768.5 402.2,776.5 402.4,782.9C402.5,789.4 404.3,797.6 404.7,800.6"/>
<path d="M416.5,742C415.5,745.3 411.8,755.3 410.6,761.8C409.4,768.2 409.4,774.7 409.4,780.6C409.4,786.5 410.4,794.3 410.6,797.1"/>
<path d="M421.2,740.8C420.6,744.3 418.4,755.1 417.6,761.8C416.9,768.4 416.7,775.5 416.5,780.6C416.3,785.7 416.5,790.4 416.5,792.4"/>
<path d="M425.3,739.4C425.1,743.1 424.4,754.9 424.1,761.8C423.8,768.6 423.8,776.3 423.5,780.6C423.2,784.9 422.5,786.5 422.4,787.6"/>
<path d="M430.6,739.4C430.7,743.1 431,754.9 431.2,761.8C431.4,768.6 431.6,776.9 431.8,780.6C432,784.3 432.3,783.5 432.4,784.1"/>
<path d="M435.3,741.2C435.7,744.6 436.9,754.4 437.6,761.8C438.4,769.1 439.6,781.4 440,785.3"/>
<path d="M440,742.4C440.8,745.6 443.5,753.8 444.7,761.8C445.9,769.7 446.7,785.3 447.1,790"/>
<path d="M444.1,742.9C445.3,746.1 449.5,753.1 451.2,761.8C452.8,770.4 453.6,789.2 454.1,794.7"/>
<path d="M447.6,742.4C449.3,745.6 455.4,752.3 457.6,761.8C459.9,771.3 460.6,793.1 461.2,799.4"/>
<path d="M450.6,741.2C452.9,744.2 461.6,752.1 464.7,759.4C467.8,766.8 468.8,779.8 469.4,785.3C470,790.8 468.4,791.2 468.2,792.4"/>
<path d="M452.9,740C455.9,743.2 467,752.6 470.6,759.4C474.2,766.2 474,777.1 474.7,780.6"/>
</g></g>
<path d="M392,738.5C392.3,737.3 398.4,734.2 401.2,732.4C404,730.5 410,726.4 412.9,724.7C415.9,723 421.2,720.3 423.5,719.6C425.9,719 428.4,718.6 430.6,719.6C432.8,720.7 437.5,725.6 440,727.6C442.5,729.7 447.6,733.7 449.4,735.3C451.3,736.9 454.4,738.4 453.9,739.4C453.4,740.5 448,742.8 445.9,743.2C443.7,743.5 439.5,742.6 437.6,742C435.8,741.4 433.3,739.3 431.8,738.9C430.2,738.5 427.9,738.5 425.9,738.9C423.8,739.3 418.7,741.6 416.5,742C414.3,742.4 411.8,742.2 409.4,742C407.1,741.8 401.1,741.3 398.8,740.8C396.5,740.4 391.7,739.6 392,738.5Z" fill="#a8745e"/>
<g fill="none" stroke="#b98876" stroke-width="0.9">
<path d="M427.6,720.6L397.6,740.4"/>
<path d="M427.6,720.6L404.7,741.3"/>
<path d="M427.6,720.6L411.8,741.8"/>
<path d="M427.6,720.6L418.8,740.8"/>
<path d="M427.6,720.6L425.9,738.9"/>
<path d="M427.6,720.6L432.9,739.4"/>
<path d="M427.6,720.6L440,742"/>
<path d="M427.6,720.6L447.1,742.4"/>
</g>
<clipPath id="hz2"><path d="M467.1,804.7C467.8,800.4 468.8,796.7 470.6,792.9C472.4,789.2 474.5,785.5 477.6,782.4C480.8,779.2 484.9,776.3 489.4,774.1C493.9,772 499.4,770.5 504.7,769.4C510,768.3 516.5,767.9 521.2,767.6C525.9,767.4 529.4,767.4 532.9,768C536.5,768.6 538.8,768.6 542.4,771.2C545.9,773.8 551.2,775.6 554.1,783.5C557.1,791.5 560,806.3 560,818.8C560,831.4 556.3,851 554.1,858.8C552,866.7 550,863.7 547.1,865.9C544.1,868 540.4,870.4 536.5,871.8C532.5,873.1 527.8,873.8 523.5,874.1C519.2,874.4 514.7,874.3 510.6,873.5C506.5,872.7 502.7,871.3 498.8,869.4C494.9,867.5 490.2,865.1 487.1,862.4C483.9,859.6 482.5,857.3 480,852.9C477.5,848.6 474.1,842.2 471.8,836.5C469.4,830.8 466.7,824.1 465.9,818.8C465.1,813.5 466.3,809 467.1,804.7Z"/></clipPath>
<path d="M467.1,804.7C467.8,800.4 468.8,796.7 470.6,792.9C472.4,789.2 474.5,785.5 477.6,782.4C480.8,779.2 484.9,776.3 489.4,774.1C493.9,772 499.4,770.5 504.7,769.4C510,768.3 516.5,767.9 521.2,767.6C525.9,767.4 529.4,767.4 532.9,768C536.5,768.6 538.8,768.6 542.4,771.2C545.9,773.8 551.2,775.6 554.1,783.5C557.1,791.5 560,806.3 560,818.8C560,831.4 556.3,851 554.1,858.8C552,866.7 550,863.7 547.1,865.9C544.1,868 540.4,870.4 536.5,871.8C532.5,873.1 527.8,873.8 523.5,874.1C519.2,874.4 514.7,874.3 510.6,873.5C506.5,872.7 502.7,871.3 498.8,869.4C494.9,867.5 490.2,865.1 487.1,862.4C483.9,859.6 482.5,857.3 480,852.9C477.5,848.6 474.1,842.2 471.8,836.5C469.4,830.8 466.7,824.1 465.9,818.8C465.1,813.5 466.3,809 467.1,804.7Z" fill="#a5503c"/>
<g clip-path="url(#hz2)">
<path d="M462.4,807.1C463.1,800.4 466.9,795.1 469.4,790.6C472,786.1 474.3,783.1 477.6,780C481,776.9 484.9,773.9 489.4,771.8C493.9,769.6 499,768 504.7,767.1C510.4,766.1 519.4,764.3 523.5,765.9C527.6,767.5 530.8,771.6 529.4,776.5C528,781.4 519.6,788.8 515.3,795.3C511,801.8 506.7,808.4 503.5,815.3C500.4,822.2 497.8,830.8 496.5,836.5C495.1,842.2 498.4,847.3 495.3,849.4C492.2,851.6 482.7,852.5 477.6,849.4C472.5,846.3 467.3,837.6 464.7,830.6C462.2,823.5 461.6,813.7 462.4,807.1Z" fill="#7a3424"/>
<path d="M522.4,765.9C523.2,764.4 529.2,765.7 532.9,766.5C536.7,767.3 543.7,768.8 544.7,770.6C545.7,772.4 541,775.4 538.8,777.1C536.7,778.7 533.6,780.9 531.8,780.6C529.9,780.3 529.2,777.7 527.6,775.3C526.1,772.8 521.5,767.4 522.4,765.9Z" fill="#b8806e"/>
<g fill="none" stroke="#b06a56" stroke-width="1.4" stroke-linecap="round">
<path d="M523.5,769.2C518.8,770 502.9,771.3 495.3,774.4C487.6,777.4 482.1,782.2 477.6,787.3C473.2,792.4 470,801.8 468.5,804.7"/>
<path d="M524.7,771.8C520.4,772.9 505.7,775.5 498.8,778.8C492,782.2 487.6,786.7 483.5,791.8C479.4,796.9 475.7,806.5 474.1,809.4"/>
<path d="M525.9,774.1C522,775.7 508.6,779.6 502.4,783.5C496.1,787.5 492.2,791.8 488.2,797.6C484.3,803.5 480.4,815.3 478.8,818.8"/>
<path d="M527.1,775.9C523.7,777.7 512.5,782.6 507.1,787.1C501.6,791.5 497.7,795.9 494.1,802.4C490.5,808.8 486.8,822 485.3,825.9"/>
<path d="M527.6,777.6C524.8,780 515.4,786.5 510.6,791.8C505.8,797.1 502.1,802.5 498.8,809.4C495.6,816.3 492.5,829 491.2,832.9"/>
<path d="M528.2,778.8C526.1,781.6 519.4,789.2 515.3,795.3C511.2,801.4 506.7,808.4 503.5,815.3C500.4,822.2 497.6,832.9 496.5,836.5"/>
</g><g fill="none" stroke="#c4806e" stroke-width="1.2" stroke-linecap="round">
<path d="M530.6,781.2C529,783.9 524.5,791.4 521.2,797.6C517.8,803.9 513.5,811.8 510.6,818.8C507.6,825.9 504.7,836.5 503.5,840"/>
<path d="M532.4,783.5C531.3,786.7 528.3,795.7 525.9,802.4C523.4,809 520.2,816.9 517.6,823.5C515.1,830.2 511.8,839.2 510.6,842.4"/>
<path d="M533.5,790.6C532.8,793.7 531.1,803.1 529.4,809.4C527.7,815.7 525.7,822.2 523.5,828.2C521.4,834.3 517.6,842.9 516.5,845.9"/>
<path d="M532.9,804.7C532.5,807.5 531.8,815.7 530.6,821.2C529.4,826.7 527.6,832.5 525.9,837.6C524.1,842.7 521,849.4 520,851.8"/>
<path d="M535.3,830.6C534.5,832.9 532.4,840.2 530.6,844.7C528.8,849.2 525.7,855.5 524.7,857.6"/>
<path d="M540,842.4C539,844.3 536.5,850.4 534.1,854.1C531.8,857.8 527.3,862.9 525.9,864.7"/>
<path d="M545.9,852.9C544.7,854.5 542,859.4 538.8,862.4C535.7,865.3 529,869.2 527.1,870.6"/>
</g>
<clipPath id="bcap"><path d="M478.8,852.9C478,849.2 480.7,844.2 481.8,841.2C482.8,838.1 483,835.7 485.3,834.7C487.5,833.7 491.7,834.2 495.3,835.3C498.9,836.4 503.5,838.8 507.1,841.2C510.6,843.5 513.7,846.3 516.5,849.4C519.2,852.5 522,855.8 523.5,860C525.1,864.2 528,872.2 525.9,874.7C523.7,877.3 515.2,876 510.6,875.3C506,874.6 502.3,872.5 498.2,870.6C494.2,868.6 489.7,866.5 486.5,863.5C483.2,860.6 479.6,856.7 478.8,852.9Z"/></clipPath>
<path d="M478.8,852.9C478,849.2 480.7,844.2 481.8,841.2C482.8,838.1 483,835.7 485.3,834.7C487.5,833.7 491.7,834.2 495.3,835.3C498.9,836.4 503.5,838.8 507.1,841.2C510.6,843.5 513.7,846.3 516.5,849.4C519.2,852.5 522,855.8 523.5,860C525.1,864.2 528,872.2 525.9,874.7C523.7,877.3 515.2,876 510.6,875.3C506,874.6 502.3,872.5 498.2,870.6C494.2,868.6 489.7,866.5 486.5,863.5C483.2,860.6 479.6,856.7 478.8,852.9Z" fill="#b07a68"/>
<g clip-path="url(#bcap)" fill="none" stroke="#a06050" stroke-width="1.1" stroke-opacity="0.7">
<path d="M502.9,853.4L530,858.1"/>
<path d="M502.4,854.3L525.4,867.4"/>
<path d="M501.6,854.9L516.9,874.5"/>
<path d="M500.6,855.3L505.9,878.3"/>
<path d="M499.4,855.2L493.9,878.3"/>
<path d="M498.4,854.9L482.9,874.4"/>
<path d="M497.5,854.2L474.5,867.2"/>
<path d="M497.1,853.4L470,857.9"/>
<path d="M497.1,852.5L470,847.8"/>
<path d="M497.6,851.6L474.6,838.5"/>
<path d="M498.4,851L483.1,831.4"/>
<path d="M499.4,850.6L494.1,827.5"/>
<path d="M500.6,850.6L506.1,827.6"/>
<path d="M501.6,851L517.1,831.5"/>
<path d="M502.5,851.6L525.5,838.6"/>
<path d="M502.9,852.5L530,848"/>
</g></g>
<clipPath id="pea"><path d="M299.9,832.1C300.3,830.4 301.8,829.1 302.9,827.6C304,826.2 305.1,825.3 306.5,823.2C307.8,821.2 309.1,817.9 310.9,815.3C312.6,812.6 314.7,809.5 317.1,807.4C319.4,805.2 322.2,803.5 325,802.5C327.8,801.5 330.6,801.2 333.8,801.2C337.1,801.1 340.9,801.6 344.4,802.1C347.9,802.5 351.5,803 355,803.8C358.5,804.6 362.4,805.8 365.6,806.9C368.8,808 371.8,809 374.4,810.4C377.1,811.8 379.3,813.5 381.5,815.3C383.7,817.1 385.4,819.7 387.6,821.5C389.9,823.2 391,822.9 394.7,825.9C398.4,828.8 405.7,834 409.7,839.1C413.7,844.3 418.5,851.3 418.5,856.8C418.5,862.2 412.6,869.6 409.7,871.8C406.8,874 404.6,870.5 400.9,870C397.2,869.5 392.1,868.7 387.6,868.7C383.2,868.7 378.7,869.3 374.4,870C370.1,870.7 366.5,872.1 362.1,872.6C357.6,873.2 352.1,873.7 347.9,873.5C343.8,873.4 340.6,872.6 337.4,871.8C334.1,870.9 331.5,869.9 328.5,868.2C325.6,866.6 322.4,864.3 319.7,862.1C317.1,859.9 314.6,857.4 312.6,855C310.7,852.6 309.7,849.9 308.2,847.9C306.8,846 305.1,845.3 303.8,843.5C302.5,841.8 301,839.3 300.3,837.4C299.6,835.4 299.4,833.7 299.9,832.1Z"/></clipPath>
<path d="M299.9,832.1C300.3,830.4 301.8,829.1 302.9,827.6C304,826.2 305.1,825.3 306.5,823.2C307.8,821.2 309.1,817.9 310.9,815.3C312.6,812.6 314.7,809.5 317.1,807.4C319.4,805.2 322.2,803.5 325,802.5C327.8,801.5 330.6,801.2 333.8,801.2C337.1,801.1 340.9,801.6 344.4,802.1C347.9,802.5 351.5,803 355,803.8C358.5,804.6 362.4,805.8 365.6,806.9C368.8,808 371.8,809 374.4,810.4C377.1,811.8 379.3,813.5 381.5,815.3C383.7,817.1 385.4,819.7 387.6,821.5C389.9,823.2 391,822.9 394.7,825.9C398.4,828.8 405.7,834 409.7,839.1C413.7,844.3 418.5,851.3 418.5,856.8C418.5,862.2 412.6,869.6 409.7,871.8C406.8,874 404.6,870.5 400.9,870C397.2,869.5 392.1,868.7 387.6,868.7C383.2,868.7 378.7,869.3 374.4,870C370.1,870.7 366.5,872.1 362.1,872.6C357.6,873.2 352.1,873.7 347.9,873.5C343.8,873.4 340.6,872.6 337.4,871.8C334.1,870.9 331.5,869.9 328.5,868.2C325.6,866.6 322.4,864.3 319.7,862.1C317.1,859.9 314.6,857.4 312.6,855C310.7,852.6 309.7,849.9 308.2,847.9C306.8,846 305.1,845.3 303.8,843.5C302.5,841.8 301,839.3 300.3,837.4C299.6,835.4 299.4,833.7 299.9,832.1Z" fill="#a8734a"/>
<g clip-path="url(#pea)">
<path d="M298.5,830.3C299,824.5 301.3,829.2 302.9,829.6C304.6,830 310.2,833.2 312.6,834C315.1,834.8 319.8,835.8 324.1,836.1C328.4,836.4 344.2,836.4 349.7,836.5C355.2,836.5 365.8,836.8 370.9,836.6C375.9,836.5 386.9,835.6 392.9,835.2C399,834.9 419.4,828.7 422.9,833.8C426.4,838.9 437.5,873.6 422.9,878.8C408.4,884.1 313,884.5 298.5,878.8C284,873.2 298,836 298.5,830.3Z" fill="#9a6540"/>
<g fill="none" stroke="#7d4c2a" stroke-width="0.9" stroke-linecap="round">
<path d="M310.9,815.7C312.6,815.4 317.8,813.7 321.5,813.5C325.1,813.4 329.1,814.1 332.9,814.9C336.8,815.6 340.4,816.7 344.4,817.9C348.4,819.2 352.8,821.1 356.8,822.4C360.7,823.6 364.4,824.6 368.2,825.4C372.1,826.2 375.7,826.7 379.7,827.2C383.7,827.7 390,828.3 392.1,828.5"/>
<path d="M340.4,802.1C340.4,803.2 339.9,806.9 340,809.1C340.1,811.3 340.7,814.3 340.9,815.3"/>
<path d="M352.4,803.8C353.4,805 356.8,808.2 358.5,810.9C360.3,813.5 361.9,817.6 362.9,819.7C364,821.8 364.4,822.6 364.7,823.2"/>
<path d="M314.4,833.4C315,832 316.3,827.4 317.9,825C319.6,822.6 321.8,820.5 324.1,818.8C326.5,817.1 330.7,815.5 332.1,814.9"/>
<path d="M337.4,833.8C338.2,832.6 340.6,828.8 342.6,826.8C344.7,824.7 347.9,822.5 349.7,821.5C351.5,820.4 352.6,820.7 353.2,820.6"/>
<path d="M360.3,834.7C361.2,834.3 364.4,833.4 365.6,832.1C366.8,830.7 367.1,827.6 367.4,826.8"/>
<path d="M377.1,825.9C377.5,825.3 378.9,823.3 379.7,822.4C380.5,821.4 381.5,820.5 381.9,820.1"/>
<path d="M380.6,834.7C381,834.1 382.1,832.1 383.2,831.2C384.4,830.3 386.9,829.7 387.6,829.4"/>
<path d="M302.1,830.3C303.8,831 309,833.3 312.6,834.3C316.3,835.2 317.9,835.7 324.1,836C330.3,836.4 341.9,836.4 349.7,836.5C357.5,836.6 363.7,836.8 370.9,836.6C378.1,836.5 389.3,835.6 392.9,835.4"/>
<path d="M314,855C316,854.5 321.4,852.7 325.9,851.9C330.4,851.1 335.7,850.5 340.9,850.1C346,849.8 351.8,849.6 356.8,849.7C361.8,849.8 366.5,850.4 370.9,850.6C375.3,850.8 379.6,851 383.2,851C386.9,851 391.3,850.7 392.9,850.6"/>
<path d="M324.1,836.5C325,837.2 328.1,839.1 329.4,840.9C330.7,842.6 331.5,845.4 332.1,847.1C332.6,848.7 332.4,850 332.5,850.6"/>
<path d="M350.6,838.2C350.9,839.3 351.5,842.6 352.4,844.4C353.2,846.2 355.3,848.5 355.9,849.3"/>
<path d="M370.9,837.4C371.6,838.2 374.1,840.9 375.3,842.6C376.5,844.4 377.4,846.6 377.9,847.9C378.5,849.3 378.3,850.1 378.4,850.6"/>
<path d="M325.9,852.4C325.8,853.2 326.3,856 325.4,857.6C324.6,859.3 321.4,861.3 320.6,862.1"/>
<path d="M340.4,851C340.5,852.4 341.4,856.8 340.9,859.4C340.4,862 338.4,864.9 337.4,866.5C336.3,868.1 335.1,868.7 334.7,869.1"/>
<path d="M364.7,851.5C364.9,853.2 364.7,859 365.6,862.1C366.5,865.1 369.3,868.7 370,870"/>
<path d="M387.6,852.4C388,853.5 389.5,857.1 389.9,859.4C390.2,861.8 389.9,865.3 389.9,866.5"/>
<path d="M394.7,852.4C395.3,854.1 397.2,860.1 398.2,862.9C399.3,865.7 400.4,868.1 400.9,869.1"/>
</g></g>
<path d="M433.5,784.2C430.1,785.3 425.1,788.9 420.4,793.2C415.8,797.5 409.6,804.7 405.5,809.9C401.5,815.2 398.4,820.2 396.2,824.8C394,829.5 392.4,833.5 392.1,837.9C391.8,842.2 392.7,846.9 394.3,850.9C396,855 398.1,858.7 401.8,862.1C405.5,865.5 411.1,869.3 416.7,871.4C422.3,873.5 429.1,874.6 435.3,874.8C441.6,874.9 448.4,873.9 454,872.4C459.6,870.9 464.8,868.8 468.9,865.8C472.9,862.9 476,859 478.2,854.7C480.4,850.3 481.9,844.7 481.9,839.8C481.9,834.8 480.4,829.8 478.2,824.8C476,819.9 472.9,814.9 468.9,809.9C464.8,805 458.6,798.9 454,795C449.3,791.1 444.3,788.4 440.9,786.6C437.5,784.8 436.9,783.1 433.5,784.2Z" fill="#cda48c"/>
<path d="M428.8,790.9C426.4,791.7 422.5,795.9 418.6,800.6C414.7,805.3 409.1,813 405.5,819.3C402,825.5 398.1,832.6 397.1,837.9C396.2,843.2 397.9,847.2 399.9,850.9C402,854.7 405.8,858.3 409.3,860.2C412.7,862.2 417,863.1 420.4,862.5C423.9,861.9 427.3,859.7 429.8,856.5C432.2,853.4 434.1,848.4 435.3,843.5C436.6,838.5 437,832.6 437.2,826.7C437.4,820.8 437,813.2 436.3,808.1C435.6,803 434.3,798.8 433.1,796C431.9,793.1 431.2,790.2 428.8,790.9Z" fill="#efcfb5"/>
<clipPath id="wal"><path d="M528.7,812.9C528.7,808.5 529.5,803.1 530.9,798.2C532.2,793.3 534.3,788.4 536.8,783.5C539.2,778.6 541.9,773.5 545.6,768.8C549.3,764.2 554.2,759.3 558.8,755.6C563.5,751.9 568.6,749 573.5,746.8C578.4,744.5 583.6,742.9 588.2,742.1C592.9,741.2 596.8,741.2 601.5,741.6C606.1,742 611.3,743.2 616.2,744.6C621.1,745.9 626,747.6 630.9,749.7C635.8,751.8 641.2,754.6 645.6,757.1C650,759.5 653.9,762 657.4,764.4C660.8,766.9 663.7,769.1 666.2,771.8C668.6,774.5 670.3,777.4 672.1,780.6C673.8,783.8 675.1,787.5 676.5,790.9C677.8,794.3 678.8,798.1 680.1,801.2C681.5,804.2 684.4,805.6 684.6,809.3C684.7,812.9 682,818.9 680.9,823.2C679.8,827.5 679.7,830.8 677.9,835C676.2,839.2 674,843.8 670.6,848.2C667.2,852.6 662.5,857.5 657.4,861.5C652.2,865.4 645.6,868.9 639.7,871.8C633.8,874.6 627.9,876.9 622.1,878.4C616.2,879.9 610,880.5 604.4,880.6C598.8,880.7 593.6,880.3 588.2,879.1C582.8,877.9 577.2,875.9 572.1,873.2C566.9,870.5 561.8,866.6 557.4,862.9C552.9,859.3 549,855.3 545.6,851.2C542.2,847 539.2,842.4 536.8,837.9C534.3,833.5 532.2,828.9 530.9,824.7C529.5,820.5 528.7,817.4 528.7,812.9Z"/></clipPath>
<path d="M528.7,812.9C528.7,808.5 529.5,803.1 530.9,798.2C532.2,793.3 534.3,788.4 536.8,783.5C539.2,778.6 541.9,773.5 545.6,768.8C549.3,764.2 554.2,759.3 558.8,755.6C563.5,751.9 568.6,749 573.5,746.8C578.4,744.5 583.6,742.9 588.2,742.1C592.9,741.2 596.8,741.2 601.5,741.6C606.1,742 611.3,743.2 616.2,744.6C621.1,745.9 626,747.6 630.9,749.7C635.8,751.8 641.2,754.6 645.6,757.1C650,759.5 653.9,762 657.4,764.4C660.8,766.9 663.7,769.1 666.2,771.8C668.6,774.5 670.3,777.4 672.1,780.6C673.8,783.8 675.1,787.5 676.5,790.9C677.8,794.3 678.8,798.1 680.1,801.2C681.5,804.2 684.4,805.6 684.6,809.3C684.7,812.9 682,818.9 680.9,823.2C679.8,827.5 679.7,830.8 677.9,835C676.2,839.2 674,843.8 670.6,848.2C667.2,852.6 662.5,857.5 657.4,861.5C652.2,865.4 645.6,868.9 639.7,871.8C633.8,874.6 627.9,876.9 622.1,878.4C616.2,879.9 610,880.5 604.4,880.6C598.8,880.7 593.6,880.3 588.2,879.1C582.8,877.9 577.2,875.9 572.1,873.2C566.9,870.5 561.8,866.6 557.4,862.9C552.9,859.3 549,855.3 545.6,851.2C542.2,847 539.2,842.4 536.8,837.9C534.3,833.5 532.2,828.9 530.9,824.7C529.5,820.5 528.7,817.4 528.7,812.9Z" fill="#a97650"/>
<g clip-path="url(#wal)">
<path d="M545.6,769.6C548.8,768.3 554.2,759.9 558.8,757.1C563.5,754.2 568.6,753 573.5,752.6C578.4,752.3 583.6,755.1 588.2,754.9C592.9,754.6 596.8,752 601.5,751.2C606.1,750.3 611.3,749.5 616.2,749.7C621.1,750 626,751.2 630.9,752.6C635.8,754.1 640.7,756.2 645.6,758.5C650.5,760.9 656.4,763.9 660.3,766.6C664.2,769.3 666.7,771.4 669.1,774.7C671.6,778 673,782.3 675,786.5C677,790.6 679.2,795.9 680.9,799.7C682.6,803.5 683.8,810.2 685.3,809.3C686.8,808.3 691.9,802.5 689.7,793.8C687.5,785.1 682.4,766.4 672.1,757.1C661.8,747.7 642.6,741.4 627.9,737.9C613.2,734.5 596.1,735 583.8,736.5C571.6,737.9 561.8,742.1 554.4,746.8C547.1,751.4 541.2,760.6 539.7,764.4C538.2,768.2 542.4,770.8 545.6,769.6Z" fill="#b3835b"/>
<path d="M526.5,812.9C528.7,810.2 535,817.4 539.7,818.8C544.4,820.2 548.3,820.7 554.4,821.5C560.5,822.2 569.1,823 576.5,823.2C583.8,823.5 591.2,823 598.5,822.8C605.9,822.6 613.2,822.5 620.6,822.1C627.9,821.6 635.3,821.1 642.6,819.9C650,818.6 657.4,816.6 664.7,814.7C672.1,812.8 682.6,804.7 686.8,808.5C690.9,812.4 692.2,828.1 689.7,837.9C687.3,847.7 682.4,859.5 672.1,867.4C661.8,875.2 642.6,882.1 627.9,885C613.2,887.9 597.3,888.4 583.8,885C570.3,881.6 556.6,872.7 547.1,864.4C537.5,856.1 529.9,843.6 526.5,835C523,826.4 524.3,815.6 526.5,812.9Z" fill="#7a4e2e"/>
<path d="M559.6,821.8C562.7,820.8 570,823.1 576.5,823.2C583,823.4 591.2,823 598.5,822.8C605.9,822.6 613.2,822.5 620.6,822.1C627.9,821.6 635.3,821.1 642.6,819.9C650,818.6 657.7,816.5 664.7,814.7C671.7,812.9 682.1,808.6 684.6,809.3C687,810 682.5,816.2 679.4,818.8C676.3,821.4 670.3,822.5 666.2,824.7C662,826.9 658.3,830.1 654.4,832.1C650.5,834 646.6,836 642.6,836.5C638.7,837 634.6,835.9 630.9,835C627.2,834.1 623.5,831.6 620.6,831.3C617.6,831.1 615.9,831.9 613.2,833.5C610.5,835.1 607.8,839.9 604.4,840.9C601,841.9 596.1,839.2 592.6,839.4C589.2,839.7 586.5,841.1 583.8,842.4C581.1,843.6 578.9,847.5 576.5,846.8C574,846 572.3,840.9 569.1,837.9C565.9,835 558.9,831.8 557.4,829.1C555.8,826.4 556.4,822.7 559.6,821.8Z" fill="#9a6641"/>
<path d="M529.4,817.4C531.4,815.8 541.7,820.5 547.1,821.8C552.5,823 556.9,823.5 561.8,825C566.7,826.5 571.6,828.4 576.5,830.6C581.4,832.7 590,836 591.2,837.9C592.4,839.9 586.3,841.2 583.8,842.4C581.4,843.5 580.1,845 576.5,845C572.8,845 566.7,843.8 561.8,842.6C556.9,841.5 551.5,840.2 547.1,838.2C542.6,836.3 538.2,834.4 535.3,830.9C532.4,827.4 527.5,818.9 529.4,817.4Z" fill="#a87550"/>
<path d="M607.4,882.1C609.3,882.7 621.6,880.2 627.9,878.4C634.3,876.5 640,874.1 645.6,871C651.2,868 657.1,864 661.8,860C666.4,856 670.3,851.4 673.5,846.8C676.7,842.1 680.4,835 680.9,832.1C681.4,829.1 678.9,826.7 676.5,829.1C674,831.6 670.3,841.6 666.2,846.8C662,851.9 656.9,856.2 651.5,860C646.1,863.8 639.7,867.1 633.8,869.6C627.9,872 620.6,872.6 616.2,874.7C611.8,876.8 605.4,881.4 607.4,882.1Z" fill="#936340"/>
<path d="M560,817.6C560.2,816.2 559.5,814.2 561.8,812.9C564,811.7 569.4,811.7 573.5,810C577.7,808.3 582.6,804.2 586.8,802.6C590.9,801.1 594.1,800.4 598.5,800.4C602.9,800.4 605.9,801.8 613.2,802.6C620.6,803.5 630.8,804.5 642.6,805.6C654.5,806.7 680.9,807.7 684.6,809.3C688.2,810.8 671.7,812.9 664.7,814.7C657.7,816.5 650,818.6 642.6,819.9C635.3,821.1 627.9,821.6 620.6,822.1C613.2,822.5 605.9,822.6 598.5,822.8C591.2,823 582.8,823.4 576.5,823.2C570.1,823.1 563,822.7 560.3,821.8C557.5,820.8 559.8,819.1 560,817.6Z" fill="#b3835b"/>
<g fill="none" stroke="#5e1a0e" stroke-linecap="round">
<path d="M545.6,769.6C547.8,767.5 554.2,759.9 558.8,757.1C563.5,754.2 568.6,753 573.5,752.6C578.4,752.3 583.6,755.1 588.2,754.9C592.9,754.6 596.8,752 601.5,751.2C606.1,750.3 611.3,749.5 616.2,749.7C621.1,750 626,751.2 630.9,752.6C635.8,754.1 640.7,756.2 645.6,758.5C650.5,760.9 656.4,763.9 660.3,766.6C664.2,769.3 667.6,773.4 669.1,774.7" stroke-width="1.2"/>
<path d="M530.9,796.8C532.8,794.1 537.5,785 542.6,780.6C547.8,776.2 554.9,773.2 561.8,770.3C568.6,767.4 577.7,764.4 583.8,762.9C590,761.5 593.6,761.5 598.5,761.5C603.4,761.5 608.3,762.1 613.2,762.9C618.1,763.8 622.5,765.3 627.9,766.6C633.3,768 642.6,770.3 645.6,771" stroke-width="1.2"/>
<path d="M645.6,771C647.1,771.9 651.7,773.8 654.4,776.2C657.1,778.5 659.6,781.8 661.8,785C664,788.2 665.2,792.1 667.6,795.3C670.1,798.5 673.7,801.8 676.5,804.1C679.2,806.4 682.8,808.4 684.1,809.3" stroke-width="2.6"/>
<path d="M529.4,808.5C531.6,806.1 537.3,798 542.6,793.8C548,789.7 556.1,786.7 561.8,783.5C567.4,780.3 572.1,777.4 576.5,774.7C580.9,772 584.1,769.2 588.2,767.4C592.4,765.5 596.3,764 601.5,763.7C606.6,763.3 616.2,764.9 619.1,765.1" stroke-width="1.2"/>
<path d="M529.4,810C531.6,808.3 537.7,802.3 542.6,799.7C547.5,797.1 553.4,795.4 558.8,794.6C564.2,793.7 570.1,793.9 575,794.6C579.9,795.2 585,797.4 588.2,798.2C591.4,799.1 593.1,799.5 594.1,799.7" stroke-width="1.3"/>
<path d="M594.1,799.7C596.1,800.3 601.5,802.6 605.9,803.2C610.3,803.8 614.5,802.9 620.6,803.2C626.7,803.6 632.1,804.3 642.6,805.3C653.2,806.3 677.2,808.6 684.1,809.3" stroke-width="2.6"/>
<path d="M576.5,774.7C577.5,775.4 579.9,778 582.4,779.1C584.8,780.2 588.2,780.5 591.2,781.3C594.1,782.2 597.8,782.7 600,784.3C602.2,785.9 603.5,788.3 604.4,790.9C605.3,793.5 605.4,798.2 605.6,799.7" stroke-width="1.2"/>
<path d="M600,782.8C601.2,782.2 604.7,779.6 607.4,779.1C610,778.6 612.7,778.8 616.2,779.9C619.6,781 624.5,783.8 627.9,785.7C631.4,787.7 634.4,789.5 636.8,791.6C639.1,793.7 641,796.3 641.9,798.2C642.8,800.2 642.3,802.5 642.4,803.4" stroke-width="1.2"/>
<path d="M607.4,778.4C608.8,777.6 612.3,775.2 616.2,774C620.1,772.7 626,771.5 630.9,771C635.8,770.5 643.1,771 645.6,771" stroke-width="2.4"/>
<path d="M528.7,814.4C530.5,815.1 535.4,817.7 539.7,818.8C544,820 551.1,821.3 554.4,821.2C557.7,821.1 558.8,818.7 559.7,818.2" stroke-width="3.6"/>
<path d="M559.7,818.2C560,817.4 559.5,814.3 561.8,812.9C564.1,811.6 569.4,811.7 573.5,810C577.7,808.3 583.3,804.4 586.8,802.6C590.2,800.9 592.9,800.2 594.1,799.7" stroke-width="1.6"/>
<path d="M559.7,821.8C562.5,822 570,823.1 576.5,823.2C582.9,823.4 591.2,823 598.5,822.8C605.9,822.6 613.2,822.5 620.6,822.1C627.9,821.6 635.3,821.1 642.6,819.9C650,818.6 657.8,816.4 664.7,814.7C671.6,813 680.9,810.3 684.1,809.4" stroke-width="1.5"/>
<path d="M576.5,846.8C577.7,846 581.1,843.6 583.8,842.4C586.5,841.1 589.2,839.7 592.6,839.4C596.1,839.2 601,841.9 604.4,840.9C607.8,839.9 610.5,835.1 613.2,833.5C615.9,831.9 617.6,831.1 620.6,831.3C623.5,831.6 627.2,834.1 630.9,835C634.6,835.9 638.7,837 642.6,836.5C646.6,836 650.5,834 654.4,832.1C658.3,830.1 662,826.9 666.2,824.7C670.3,822.5 677.2,819.8 679.4,818.8" stroke-width="3.0"/>
<path d="M576.5,823.2C578.2,824.2 583.1,827.2 586.8,829.1C590.4,831.1 595.1,833.5 598.5,835C602,836.5 605.9,837.5 607.4,837.9" stroke-width="1.2"/>
<path d="M551.5,821.8C553.9,823 562,826.4 566.2,829.1C570.3,831.8 574,835.4 576.5,837.9C578.9,840.5 580.1,843.5 580.9,844.6" stroke-width="1.2"/>
<path d="M552.2,842.4C552.8,843.8 553.8,848.7 555.9,851.2C558,853.6 561.3,855.1 564.7,857.1C568.1,859 572.5,861 576.5,862.9C580.4,864.9 584.6,867.2 588.2,868.8C591.9,870.4 596.8,871.9 598.5,872.5" stroke-width="1.3"/>
<path d="M576.5,846.8C578.2,848 583.1,852.6 586.8,854.1C590.4,855.6 594.6,856.3 598.5,855.6C602.5,854.9 606.9,851.5 610.3,849.7C613.7,847.9 617.6,845.4 619.1,844.6" stroke-width="1.3"/>
<path d="M616.2,837.9C617.6,839.2 622.1,843.7 625,845.3C627.9,846.9 630.9,847.7 633.8,847.5C636.8,847.3 640,845.7 642.6,843.8C645.3,842 648.8,837.7 650,836.5" stroke-width="1.3"/>
<path d="M588.2,865.9C590.4,864.9 596.8,861.5 601.5,860C606.1,858.5 611.3,858 616.2,857.1C621.1,856.1 626,855.6 630.9,854.1C635.8,852.6 640.7,850.9 645.6,848.2C650.5,845.5 655.6,841.1 660.3,837.9C665,834.8 671.3,830.6 673.5,829.1" stroke-width="1.4"/>
<path d="M595.6,871.8C598.5,871.4 607.8,870.5 613.2,869.6C618.6,868.6 623,867.5 627.9,865.9C632.8,864.3 637.7,862.7 642.6,860C647.5,857.3 654.9,851.4 657.4,849.7" stroke-width="2.2"/>
</g></g>
<path d="M528.7,812.9C528.7,808.5 529.5,803.1 530.9,798.2C532.2,793.3 534.3,788.4 536.8,783.5C539.2,778.6 541.9,773.5 545.6,768.8C549.3,764.2 554.2,759.3 558.8,755.6C563.5,751.9 568.6,749 573.5,746.8C578.4,744.5 583.6,742.9 588.2,742.1C592.9,741.2 596.8,741.2 601.5,741.6C606.1,742 611.3,743.2 616.2,744.6C621.1,745.9 626,747.6 630.9,749.7C635.8,751.8 641.2,754.6 645.6,757.1C650,759.5 653.9,762 657.4,764.4C660.8,766.9 663.7,769.1 666.2,771.8C668.6,774.5 670.3,777.4 672.1,780.6C673.8,783.8 675.1,787.5 676.5,790.9C677.8,794.3 678.8,798.1 680.1,801.2C681.5,804.2 684.4,805.6 684.6,809.3C684.7,812.9 682,818.9 680.9,823.2C679.8,827.5 679.7,830.8 677.9,835C676.2,839.2 674,843.8 670.6,848.2C667.2,852.6 662.5,857.5 657.4,861.5C652.2,865.4 645.6,868.9 639.7,871.8C633.8,874.6 627.9,876.9 622.1,878.4C616.2,879.9 610,880.5 604.4,880.6C598.8,880.7 593.6,880.3 588.2,879.1C582.8,877.9 577.2,875.9 572.1,873.2C566.9,870.5 561.8,866.6 557.4,862.9C552.9,859.3 549,855.3 545.6,851.2C542.2,847 539.2,842.4 536.8,837.9C534.3,833.5 532.2,828.9 530.9,824.7C529.5,820.5 528.7,817.4 528.7,812.9Z" fill="none" stroke="#5e1a0e" stroke-width="1.1"/>
</g>
</svg>
</body>
</html>
